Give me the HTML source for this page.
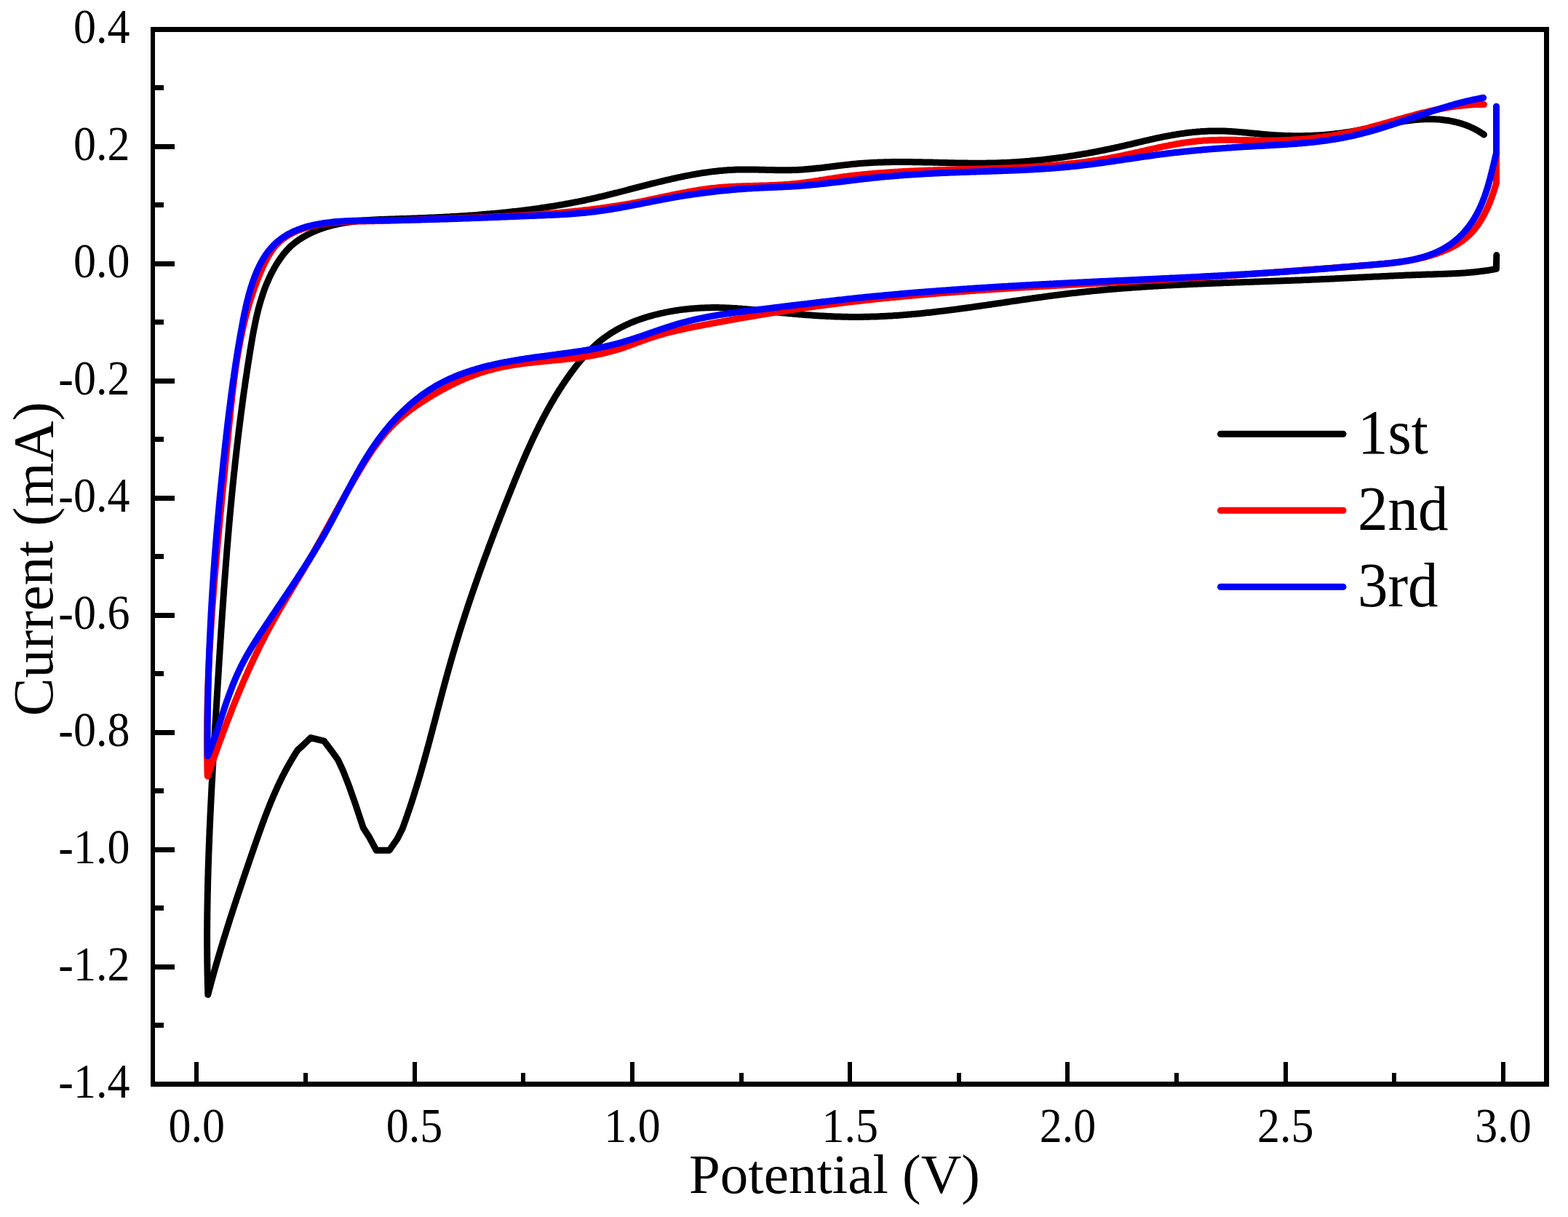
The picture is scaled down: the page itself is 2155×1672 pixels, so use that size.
<!DOCTYPE html>
<html><head><meta charset="utf-8"><title>CV plot</title>
<style>html,body{margin:0;padding:0;background:#fff;}svg{display:block;}</style>
</head><body>
<svg width="2155" height="1672" viewBox="0 0 2155 1672">
<rect width="2155" height="1672" fill="#fff"/>
<g fill="none" stroke-width="9" stroke-linecap="round" stroke-linejoin="round">
<path stroke="#000" d="M2056.8,350.5 L2056.4,369.4 L2054.4,369.8 L2052.4,370.1 L2050.5,370.5 L2048.5,370.8 L2046.5,371.2 L2044.5,371.5 L2042.5,371.8 L2040.6,372.0 L2038.6,372.3 L2036.6,372.6 L2034.6,372.8 L2032.6,373.1 L2030.6,373.3 L2028.6,373.5 L2026.7,373.7 L2024.7,373.9 L2022.7,374.1 L2020.7,374.3 L2018.7,374.5 L2016.7,374.6 L2014.7,374.8 L2012.7,374.9 L2010.7,375.1 L2008.7,375.2 L2006.7,375.3 L2004.7,375.4 L2002.7,375.5 L2000.7,375.7 L1998.7,375.8 L1996.7,375.8 L1994.7,375.9 L1992.7,376.0 L1990.7,376.1 L1988.7,376.2 L1986.7,376.3 L1984.7,376.3 L1982.7,376.4 L1980.7,376.5 L1978.7,376.5 L1976.7,376.6 L1974.7,376.7 L1972.7,376.7 L1970.7,376.8 L1968.7,376.9 L1966.7,376.9 L1964.7,377.0 L1962.7,377.0 L1960.7,377.1 L1958.7,377.2 L1956.7,377.2 L1954.7,377.3 L1952.7,377.4 L1950.7,377.5 L1948.7,377.5 L1946.7,377.6 L1944.7,377.7 L1942.7,377.7 L1940.7,377.8 L1938.7,377.9 L1936.7,378.0 L1934.7,378.1 L1932.7,378.1 L1930.7,378.2 L1928.7,378.3 L1926.7,378.4 L1924.7,378.5 L1922.7,378.6 L1920.7,378.7 L1918.7,378.7 L1916.7,378.8 L1914.7,378.9 L1912.7,379.0 L1910.7,379.1 L1908.7,379.2 L1906.7,379.3 L1904.7,379.4 L1902.7,379.5 L1900.7,379.6 L1898.8,379.7 L1896.8,379.8 L1894.8,379.9 L1892.8,380.0 L1890.8,380.0 L1888.8,380.1 L1886.8,380.2 L1884.8,380.3 L1882.8,380.4 L1880.8,380.5 L1878.8,380.6 L1876.8,380.7 L1874.8,380.8 L1872.8,380.9 L1870.8,381.0 L1868.8,381.1 L1866.8,381.2 L1864.8,381.3 L1862.8,381.4 L1860.8,381.5 L1858.8,381.6 L1856.8,381.7 L1854.8,381.8 L1852.8,381.9 L1850.8,382.0 L1848.8,382.1 L1846.8,382.2 L1844.8,382.3 L1842.8,382.4 L1840.8,382.5 L1838.8,382.6 L1836.8,382.7 L1834.8,382.8 L1832.8,382.9 L1830.8,383.0 L1828.8,383.1 L1826.8,383.2 L1824.8,383.3 L1822.8,383.3 L1820.8,383.4 L1818.8,383.5 L1816.8,383.6 L1814.8,383.7 L1812.8,383.8 L1810.8,383.9 L1808.8,384.0 L1806.8,384.1 L1804.8,384.1 L1802.8,384.2 L1800.8,384.3 L1798.8,384.4 L1796.8,384.5 L1794.8,384.5 L1792.8,384.6 L1790.8,384.7 L1788.8,384.8 L1786.8,384.9 L1784.8,384.9 L1782.8,385.0 L1780.8,385.1 L1778.8,385.2 L1776.8,385.2 L1774.8,385.3 L1772.8,385.4 L1770.8,385.5 L1768.8,385.5 L1766.8,385.6 L1764.8,385.7 L1762.8,385.8 L1760.8,385.8 L1758.8,385.9 L1756.8,386.0 L1754.8,386.1 L1752.8,386.1 L1750.8,386.2 L1748.8,386.3 L1746.8,386.3 L1744.8,386.4 L1742.8,386.5 L1740.8,386.6 L1738.8,386.6 L1736.8,386.7 L1734.8,386.8 L1732.8,386.8 L1730.8,386.9 L1728.8,387.0 L1726.8,387.0 L1724.8,387.1 L1722.8,387.2 L1720.8,387.3 L1718.8,387.3 L1716.8,387.4 L1714.8,387.5 L1712.8,387.5 L1710.8,387.6 L1708.8,387.7 L1706.8,387.7 L1704.8,387.8 L1702.8,387.9 L1700.8,388.0 L1698.8,388.0 L1696.8,388.1 L1694.8,388.2 L1692.8,388.3 L1690.8,388.3 L1688.8,388.4 L1686.8,388.5 L1684.8,388.6 L1682.8,388.6 L1680.8,388.7 L1678.8,388.8 L1676.8,388.9 L1674.8,388.9 L1672.8,389.0 L1670.8,389.1 L1668.8,389.2 L1666.8,389.2 L1664.8,389.3 L1662.8,389.4 L1660.8,389.5 L1658.8,389.6 L1656.8,389.7 L1654.8,389.7 L1652.8,389.8 L1650.8,389.9 L1648.8,390.0 L1646.8,390.1 L1644.8,390.2 L1642.8,390.3 L1640.8,390.3 L1638.8,390.4 L1636.8,390.5 L1634.8,390.6 L1632.8,390.7 L1630.8,390.8 L1628.8,390.9 L1626.8,391.0 L1624.8,391.1 L1622.8,391.2 L1620.8,391.3 L1618.8,391.4 L1616.8,391.5 L1614.8,391.6 L1612.8,391.7 L1610.8,391.8 L1608.8,391.9 L1606.8,392.0 L1604.8,392.1 L1602.8,392.2 L1600.8,392.3 L1598.8,392.4 L1596.8,392.6 L1594.8,392.7 L1592.8,392.8 L1590.8,392.9 L1588.8,393.0 L1586.8,393.1 L1584.8,393.3 L1582.8,393.4 L1580.8,393.5 L1578.8,393.6 L1576.8,393.8 L1574.8,393.9 L1572.8,394.0 L1570.8,394.1 L1568.8,394.3 L1566.8,394.4 L1564.8,394.5 L1562.9,394.7 L1560.9,394.8 L1558.9,395.0 L1556.9,395.1 L1554.9,395.2 L1552.9,395.4 L1550.9,395.5 L1548.9,395.7 L1546.9,395.8 L1544.9,396.0 L1542.9,396.1 L1540.9,396.3 L1538.9,396.5 L1536.9,396.6 L1534.9,396.8 L1532.9,396.9 L1530.9,397.1 L1528.9,397.3 L1527.0,397.4 L1525.0,397.6 L1523.0,397.8 L1521.0,398.0 L1519.0,398.1 L1517.0,398.3 L1515.0,398.5 L1513.0,398.7 L1511.0,398.9 L1509.0,399.1 L1507.0,399.3 L1505.0,399.4 L1503.0,399.6 L1501.1,399.8 L1499.1,400.0 L1497.1,400.2 L1495.1,400.4 L1493.1,400.6 L1491.1,400.9 L1489.1,401.1 L1487.1,401.3 L1485.1,401.5 L1483.1,401.7 L1481.1,401.9 L1479.2,402.2 L1477.2,402.4 L1475.2,402.6 L1473.2,402.8 L1471.2,403.1 L1469.2,403.3 L1467.2,403.5 L1465.2,403.8 L1463.3,404.0 L1461.3,404.3 L1459.3,404.5 L1457.3,404.8 L1455.3,405.0 L1453.3,405.3 L1451.3,405.5 L1449.3,405.8 L1447.4,406.0 L1445.4,406.3 L1443.4,406.6 L1441.4,406.8 L1439.4,407.1 L1437.4,407.4 L1435.4,407.6 L1433.5,407.9 L1431.5,408.2 L1429.5,408.4 L1427.5,408.7 L1425.5,409.0 L1423.5,409.3 L1421.5,409.5 L1419.6,409.8 L1417.6,410.1 L1415.6,410.4 L1413.6,410.7 L1411.6,411.0 L1409.6,411.2 L1407.7,411.5 L1405.7,411.8 L1403.7,412.1 L1401.7,412.4 L1399.7,412.7 L1397.7,413.0 L1395.8,413.3 L1393.8,413.5 L1391.8,413.8 L1389.8,414.1 L1387.8,414.4 L1385.8,414.7 L1383.9,415.0 L1381.9,415.3 L1379.9,415.6 L1377.9,415.9 L1375.9,416.2 L1373.9,416.5 L1372.0,416.8 L1370.0,417.0 L1368.0,417.3 L1366.0,417.6 L1364.0,417.9 L1362.0,418.2 L1360.1,418.5 L1358.1,418.8 L1356.1,419.1 L1354.1,419.4 L1352.1,419.6 L1350.1,419.9 L1348.2,420.2 L1346.2,420.5 L1344.2,420.8 L1342.2,421.1 L1340.2,421.3 L1338.2,421.6 L1336.2,421.9 L1334.3,422.2 L1332.3,422.4 L1330.3,422.7 L1328.3,423.0 L1326.3,423.3 L1324.3,423.5 L1322.4,423.8 L1320.4,424.1 L1318.4,424.3 L1316.4,424.6 L1314.4,424.9 L1312.4,425.1 L1310.5,425.4 L1308.5,425.6 L1306.5,425.9 L1304.5,426.1 L1302.5,426.4 L1300.5,426.6 L1298.5,426.9 L1296.6,427.1 L1294.6,427.4 L1292.6,427.6 L1290.6,427.8 L1288.6,428.1 L1286.6,428.3 L1284.6,428.5 L1282.7,428.8 L1280.7,429.0 L1278.7,429.2 L1276.7,429.4 L1274.7,429.6 L1272.7,429.8 L1270.7,430.1 L1268.7,430.3 L1266.8,430.5 L1264.8,430.7 L1262.8,430.9 L1260.8,431.0 L1258.8,431.2 L1256.8,431.4 L1254.8,431.6 L1252.8,431.8 L1250.9,432.0 L1248.9,432.1 L1246.9,432.3 L1244.9,432.5 L1242.9,432.6 L1240.9,432.8 L1238.9,432.9 L1236.9,433.1 L1234.9,433.2 L1232.9,433.4 L1230.9,433.5 L1229.0,433.6 L1227.0,433.8 L1225.0,433.9 L1223.0,434.0 L1221.0,434.1 L1219.0,434.2 L1217.0,434.3 L1215.0,434.4 L1213.0,434.5 L1211.0,434.6 L1209.0,434.7 L1207.0,434.8 L1205.0,434.9 L1203.0,434.9 L1201.0,435.0 L1199.0,435.1 L1197.1,435.1 L1195.1,435.2 L1193.1,435.2 L1191.1,435.3 L1189.1,435.3 L1187.1,435.3 L1185.1,435.4 L1183.1,435.4 L1181.1,435.4 L1179.1,435.4 L1177.1,435.4 L1175.1,435.4 L1173.1,435.4 L1171.1,435.4 L1169.1,435.4 L1167.1,435.4 L1165.1,435.3 L1163.1,435.3 L1161.1,435.3 L1159.1,435.2 L1157.1,435.2 L1155.1,435.1 L1153.1,435.1 L1151.1,435.0 L1149.1,434.9 L1147.1,434.9 L1145.0,434.8 L1143.0,434.7 L1141.0,434.6 L1139.0,434.5 L1137.0,434.4 L1135.0,434.3 L1133.0,434.2 L1131.0,434.1 L1129.0,434.0 L1127.0,433.9 L1125.0,433.8 L1123.0,433.7 L1121.0,433.5 L1119.0,433.4 L1117.0,433.3 L1115.0,433.1 L1113.0,433.0 L1111.0,432.8 L1109.0,432.7 L1107.0,432.5 L1105.0,432.4 L1103.0,432.2 L1101.0,432.1 L1099.0,431.9 L1097.0,431.7 L1095.0,431.6 L1093.1,431.4 L1091.1,431.2 L1089.1,431.0 L1087.1,430.8 L1085.1,430.7 L1083.1,430.5 L1081.1,430.3 L1079.1,430.1 L1077.1,429.9 L1075.1,429.7 L1073.1,429.5 L1071.1,429.3 L1069.1,429.1 L1067.2,428.9 L1065.2,428.7 L1063.2,428.5 L1061.2,428.3 L1059.2,428.1 L1057.2,427.9 L1055.2,427.6 L1053.3,427.4 L1051.3,427.2 L1049.3,427.0 L1047.3,426.8 L1045.3,426.6 L1043.3,426.4 L1041.4,426.2 L1039.4,426.0 L1037.4,425.8 L1035.4,425.6 L1033.4,425.4 L1031.5,425.2 L1029.5,425.0 L1027.5,424.9 L1025.5,424.7 L1023.5,424.5 L1021.5,424.4 L1019.5,424.2 L1017.6,424.0 L1015.6,423.9 L1013.6,423.8 L1011.6,423.6 L1009.6,423.5 L1007.6,423.4 L1005.6,423.3 L1003.6,423.2 L1001.6,423.1 L999.6,423.0 L997.7,422.9 L995.7,422.8 L993.7,422.8 L991.7,422.7 L989.7,422.7 L987.7,422.6 L985.7,422.6 L983.7,422.6 L981.6,422.6 L979.6,422.6 L977.6,422.6 L975.6,422.7 L973.6,422.7 L971.6,422.8 L969.6,422.8 L967.6,422.9 L965.6,423.0 L963.6,423.1 L961.6,423.2 L959.6,423.3 L957.6,423.4 L955.6,423.6 L953.5,423.7 L951.5,423.9 L949.5,424.1 L947.5,424.3 L945.5,424.5 L943.5,424.7 L941.5,424.9 L939.5,425.1 L937.5,425.4 L935.5,425.6 L933.5,425.9 L931.5,426.2 L929.6,426.5 L927.6,426.8 L925.6,427.1 L923.6,427.5 L921.6,427.8 L919.6,428.2 L917.7,428.6 L915.7,428.9 L913.7,429.3 L911.7,429.8 L909.8,430.2 L907.8,430.6 L905.9,431.1 L903.9,431.6 L902.0,432.0 L900.0,432.5 L898.1,433.0 L896.1,433.6 L894.2,434.1 L892.2,434.7 L890.3,435.2 L888.4,435.8 L886.5,436.4 L884.6,437.0 L882.7,437.6 L880.8,438.3 L878.9,438.9 L877.0,439.6 L875.1,440.3 L873.2,441.0 L871.4,441.7 L869.5,442.5 L867.6,443.2 L865.8,444.0 L864.0,444.8 L862.2,445.6 L860.3,446.5 L858.5,447.3 L856.8,448.2 L855.0,449.1 L853.2,450.0 L851.4,450.9 L849.7,451.8 L848.0,452.8 L846.2,453.8 L844.5,454.8 L842.8,455.8 L841.2,456.9 L839.5,457.9 L837.8,459.0 L836.2,460.1 L834.6,461.2 L832.9,462.3 L831.3,463.5 L829.7,464.7 L828.2,465.9 L826.6,467.1 L825.1,468.3 L823.5,469.6 L822.0,470.8 L820.5,472.1 L819.0,473.4 L817.6,474.8 L816.1,476.1 L814.7,477.5 L813.2,478.8 L811.8,480.2 L810.4,481.6 L809.0,483.0 L807.6,484.5 L806.3,485.9 L804.9,487.4 L803.6,488.9 L802.3,490.3 L800.9,491.8 L799.6,493.4 L798.3,494.9 L797.1,496.4 L795.8,497.9 L794.5,499.5 L793.3,501.1 L792.0,502.6 L790.8,504.2 L789.6,505.8 L788.4,507.4 L787.2,509.0 L786.0,510.6 L784.8,512.2 L783.6,513.8 L782.4,515.5 L781.3,517.1 L780.1,518.7 L779.0,520.4 L777.8,522.0 L776.7,523.7 L775.6,525.3 L774.5,527.0 L773.4,528.6 L772.3,530.3 L771.2,532.0 L770.1,533.7 L769.0,535.3 L767.9,537.0 L766.9,538.7 L765.8,540.4 L764.8,542.1 L763.7,543.8 L762.7,545.5 L761.7,547.2 L760.7,549.0 L759.6,550.7 L758.6,552.4 L757.6,554.1 L756.6,555.9 L755.7,557.6 L754.7,559.3 L753.7,561.1 L752.7,562.8 L751.8,564.6 L750.8,566.3 L749.9,568.1 L748.9,569.8 L748.0,571.6 L747.0,573.4 L746.1,575.1 L745.2,576.9 L744.3,578.7 L743.4,580.5 L742.4,582.3 L741.5,584.0 L740.6,585.8 L739.8,587.6 L738.9,589.4 L738.0,591.2 L737.1,593.0 L736.2,594.8 L735.4,596.6 L734.5,598.4 L733.6,600.2 L732.8,602.0 L731.9,603.9 L731.1,605.7 L730.2,607.5 L729.4,609.3 L728.6,611.1 L727.7,613.0 L726.9,614.8 L726.1,616.6 L725.3,618.5 L724.4,620.3 L723.6,622.1 L722.8,624.0 L722.0,625.8 L721.2,627.6 L720.4,629.5 L719.6,631.3 L718.8,633.2 L718.0,635.0 L717.2,636.9 L716.5,638.7 L715.7,640.6 L714.9,642.4 L714.1,644.3 L713.3,646.1 L712.6,648.0 L711.8,649.8 L711.0,651.7 L710.3,653.5 L709.5,655.4 L708.7,657.3 L708.0,659.1 L707.2,661.0 L706.5,662.8 L705.7,664.7 L705.0,666.6 L704.2,668.4 L703.5,670.3 L702.7,672.1 L702.0,674.0 L701.2,675.9 L700.5,677.7 L699.7,679.6 L699.0,681.5 L698.2,683.3 L697.5,685.2 L696.8,687.1 L696.0,688.9 L695.3,690.8 L694.5,692.7 L693.8,694.5 L693.1,696.4 L692.3,698.2 L691.6,700.1 L690.9,702.0 L690.1,703.8 L689.4,705.7 L688.7,707.6 L687.9,709.4 L687.2,711.3 L686.5,713.2 L685.8,715.0 L685.0,716.9 L684.3,718.8 L683.6,720.6 L682.9,722.5 L682.2,724.4 L681.5,726.2 L680.7,728.1 L680.0,730.0 L679.3,731.8 L678.6,733.7 L677.9,735.6 L677.2,737.4 L676.5,739.3 L675.8,741.2 L675.1,743.1 L674.4,744.9 L673.6,746.8 L672.9,748.7 L672.2,750.5 L671.5,752.4 L670.9,754.3 L670.2,756.2 L669.5,758.0 L668.8,759.9 L668.1,761.8 L667.4,763.6 L666.7,765.5 L666.0,767.4 L665.3,769.3 L664.6,771.1 L664.0,773.0 L663.3,774.9 L662.6,776.8 L661.9,778.7 L661.2,780.5 L660.6,782.4 L659.9,784.3 L659.2,786.2 L658.5,788.0 L657.9,789.9 L657.2,791.8 L656.5,793.7 L655.9,795.6 L655.2,797.4 L654.6,799.3 L653.9,801.2 L653.2,803.1 L652.6,805.0 L651.9,806.9 L651.3,808.8 L650.6,810.6 L650.0,812.5 L649.3,814.4 L648.7,816.3 L648.0,818.2 L647.4,820.1 L646.8,822.0 L646.1,823.8 L645.5,825.7 L644.8,827.6 L644.2,829.5 L643.6,831.4 L642.9,833.3 L642.3,835.2 L641.7,837.1 L641.1,839.0 L640.4,840.9 L639.8,842.8 L639.2,844.7 L638.6,846.6 L638.0,848.5 L637.4,850.4 L636.8,852.3 L636.1,854.2 L635.5,856.1 L634.9,858.0 L634.3,859.9 L633.7,861.8 L633.1,863.7 L632.5,865.6 L631.9,867.5 L631.3,869.4 L630.7,871.3 L630.2,873.2 L629.6,875.1 L629.0,877.0 L628.4,878.9 L627.8,880.8 L627.2,882.8 L626.7,884.7 L626.1,886.6 L625.5,888.5 L624.9,890.4 L624.4,892.3 L623.8,894.2 L623.2,896.2 L622.7,898.1 L622.1,900.0 L621.6,901.9 L621.0,903.8 L620.5,905.8 L619.9,907.7 L619.4,909.6 L618.8,911.5 L618.3,913.5 L617.7,915.4 L617.2,917.3 L616.6,919.2 L616.1,921.2 L615.6,923.1 L615.0,925.0 L614.5,927.0 L614.0,928.9 L613.4,930.8 L612.9,932.8 L612.4,934.7 L611.9,936.6 L611.3,938.6 L610.8,940.5 L610.3,942.4 L609.8,944.4 L609.2,946.3 L608.7,948.2 L608.2,950.2 L607.7,952.1 L607.2,954.0 L606.7,956.0 L606.1,957.9 L605.6,959.9 L605.1,961.8 L604.6,963.7 L604.1,965.7 L603.6,967.6 L603.1,969.5 L602.6,971.5 L602.1,973.4 L601.5,975.4 L601.0,977.3 L600.5,979.2 L600.0,981.2 L599.5,983.1 L599.0,985.1 L598.5,987.0 L598.0,988.9 L597.5,990.9 L597.0,992.8 L596.4,994.8 L595.9,996.7 L595.4,998.6 L594.9,1000.6 L594.4,1002.5 L593.9,1004.5 L593.4,1006.4 L592.8,1008.3 L592.3,1010.3 L591.8,1012.2 L591.3,1014.2 L590.8,1016.1 L590.3,1018.0 L589.7,1020.0 L589.2,1021.9 L588.7,1023.8 L588.2,1025.8 L587.6,1027.7 L587.1,1029.6 L586.6,1031.6 L586.1,1033.5 L585.5,1035.4 L585.0,1037.4 L584.5,1039.3 L583.9,1041.2 L583.4,1043.2 L582.9,1045.1 L582.3,1047.0 L581.8,1049.0 L581.2,1050.9 L580.7,1052.8 L580.1,1054.7 L579.6,1056.7 L579.0,1058.6 L578.5,1060.5 L577.9,1062.4 L577.4,1064.4 L576.8,1066.3 L576.2,1068.2 L575.7,1070.1 L575.1,1072.0 L574.5,1074.0 L573.9,1075.9 L573.4,1077.8 L572.8,1079.7 L572.2,1081.6 L571.6,1083.5 L571.0,1085.4 L570.4,1087.3 L569.8,1089.3 L569.2,1091.2 L568.6,1093.1 L568.0,1095.0 L567.4,1096.9 L566.8,1098.8 L566.2,1100.7 L565.6,1102.6 L565.0,1104.5 L564.3,1106.4 L563.7,1108.3 L563.1,1110.2 L562.4,1112.1 L561.8,1114.0 L561.1,1115.8 L560.5,1117.7 L559.8,1119.6 L559.2,1121.5 L558.5,1123.4 L557.9,1125.3 L557.2,1127.2 L556.5,1129.0 L555.9,1130.9 L555.2,1132.8 L554.5,1134.7 L553.8,1136.5 L553.1,1138.4 L545.9,1152.7 L535.1,1168.3 L517.2,1168.3 L507.6,1150.3 L499.2,1137.2 L488.5,1104.9 L480.1,1080.9 L471.7,1059.4 L464.5,1043.8 L455.0,1030.7 L445.4,1018.1 L427.1,1013.6 L417.0,1023.3 L409.2,1030.3 L408.1,1032.0 L407.0,1033.7 L405.9,1035.4 L404.9,1037.1 L403.8,1038.8 L402.8,1040.5 L401.7,1042.2 L400.7,1044.0 L399.7,1045.7 L398.7,1047.4 L397.7,1049.2 L396.7,1050.9 L395.7,1052.7 L394.7,1054.4 L393.8,1056.2 L392.8,1057.9 L391.9,1059.7 L391.0,1061.5 L390.1,1063.3 L389.1,1065.0 L388.2,1066.8 L387.3,1068.6 L386.5,1070.4 L385.6,1072.2 L384.7,1074.0 L383.9,1075.8 L383.0,1077.6 L382.1,1079.4 L381.3,1081.2 L380.5,1083.1 L379.7,1084.9 L378.8,1086.7 L378.0,1088.5 L377.2,1090.4 L376.4,1092.2 L375.6,1094.0 L374.8,1095.9 L374.1,1097.7 L373.3,1099.6 L372.5,1101.4 L371.8,1103.3 L371.0,1105.1 L370.3,1107.0 L369.5,1108.9 L368.8,1110.7 L368.0,1112.6 L367.3,1114.4 L366.6,1116.3 L365.9,1118.2 L365.1,1120.1 L364.4,1121.9 L363.7,1123.8 L363.0,1125.7 L362.3,1127.6 L361.6,1129.5 L360.9,1131.3 L360.2,1133.2 L359.5,1135.1 L358.9,1137.0 L358.2,1138.9 L357.5,1140.8 L356.8,1142.7 L356.1,1144.6 L355.5,1146.5 L354.8,1148.4 L354.1,1150.2 L353.5,1152.1 L352.8,1154.0 L352.1,1155.9 L351.5,1157.8 L350.8,1159.7 L350.1,1161.6 L349.5,1163.5 L348.8,1165.4 L348.2,1167.3 L347.5,1169.2 L346.9,1171.1 L346.2,1173.0 L345.5,1174.9 L344.9,1176.8 L344.2,1178.7 L343.6,1180.6 L342.9,1182.5 L342.3,1184.4 L341.6,1186.3 L341.0,1188.2 L340.3,1190.1 L339.7,1192.0 L339.0,1193.9 L338.4,1195.8 L337.7,1197.7 L337.1,1199.6 L336.4,1201.5 L335.8,1203.4 L335.1,1205.3 L334.5,1207.2 L333.8,1209.1 L333.2,1211.1 L332.6,1213.0 L331.9,1214.9 L331.3,1216.8 L330.6,1218.7 L330.0,1220.6 L329.4,1222.5 L328.7,1224.4 L328.1,1226.3 L327.4,1228.2 L326.8,1230.1 L326.2,1232.0 L325.6,1233.9 L324.9,1235.8 L324.3,1237.7 L323.7,1239.6 L323.0,1241.5 L322.4,1243.4 L321.8,1245.3 L321.2,1247.3 L320.5,1249.2 L319.9,1251.1 L319.3,1253.0 L318.7,1254.9 L318.1,1256.8 L317.4,1258.7 L316.8,1260.6 L316.2,1262.5 L315.6,1264.4 L315.0,1266.4 L314.4,1268.3 L313.8,1270.2 L313.2,1272.1 L312.6,1274.0 L312.0,1275.9 L311.4,1277.8 L310.8,1279.7 L310.2,1281.7 L309.6,1283.6 L309.0,1285.5 L308.4,1287.4 L307.8,1289.3 L307.2,1291.2 L306.6,1293.2 L306.0,1295.1 L305.5,1297.0 L304.9,1298.9 L304.3,1300.8 L303.7,1302.8 L303.1,1304.7 L302.6,1306.6 L302.0,1308.5 L301.4,1310.5 L300.9,1312.4 L300.3,1314.3 L299.7,1316.2 L299.2,1318.2 L298.6,1320.1 L298.0,1322.0 L297.5,1323.9 L296.9,1325.9 L296.4,1327.8 L295.8,1329.7 L295.3,1331.6 L294.7,1333.6 L294.2,1335.5 L293.6,1337.4 L293.1,1339.4 L292.6,1341.3 L292.0,1343.2 L291.5,1345.2 L291.0,1347.1 L290.4,1349.0 L289.9,1351.0 L289.4,1352.9 L288.9,1354.9 L288.4,1356.8 L287.8,1358.7 L287.3,1360.7 L286.8,1362.6 L286.3,1364.6 L285.8,1366.5 L285.7,1364.5 L285.7,1362.5 L285.6,1360.5 L285.6,1358.5 L285.5,1356.5 L285.5,1354.5 L285.4,1352.5 L285.3,1350.5 L285.3,1348.5 L285.3,1346.5 L285.2,1344.5 L285.2,1342.5 L285.1,1340.5 L285.1,1338.5 L285.0,1336.5 L285.0,1334.5 L285.0,1332.5 L284.9,1330.5 L284.9,1328.5 L284.9,1326.5 L284.9,1324.5 L284.8,1322.5 L284.8,1320.5 L284.8,1318.5 L284.8,1316.5 L284.7,1314.5 L284.7,1312.5 L284.7,1310.5 L284.7,1308.5 L284.7,1306.5 L284.7,1304.5 L284.7,1302.5 L284.6,1300.5 L284.6,1298.5 L284.6,1296.5 L284.6,1294.5 L284.6,1292.5 L284.6,1290.5 L284.6,1288.5 L284.6,1286.5 L284.6,1284.5 L284.6,1282.5 L284.6,1280.5 L284.6,1278.5 L284.7,1276.5 L284.7,1274.5 L284.7,1272.5 L284.7,1270.5 L284.7,1268.5 L284.7,1266.5 L284.7,1264.5 L284.8,1262.5 L284.8,1260.5 L284.8,1258.5 L284.8,1256.5 L284.8,1254.5 L284.9,1252.5 L284.9,1250.5 L284.9,1248.5 L285.0,1246.5 L285.0,1244.5 L285.0,1242.5 L285.1,1240.5 L285.1,1238.5 L285.1,1236.5 L285.2,1234.5 L285.2,1232.5 L285.2,1230.5 L285.3,1228.5 L285.3,1226.5 L285.4,1224.5 L285.4,1222.5 L285.5,1220.5 L285.5,1218.5 L285.5,1216.5 L285.6,1214.5 L285.6,1212.5 L285.7,1210.5 L285.7,1208.5 L285.8,1206.5 L285.9,1204.5 L285.9,1202.5 L286.0,1200.5 L286.0,1198.5 L286.1,1196.5 L286.1,1194.5 L286.2,1192.5 L286.3,1190.5 L286.3,1188.5 L286.4,1186.5 L286.5,1184.5 L286.5,1182.5 L286.6,1180.5 L286.7,1178.5 L286.7,1176.5 L286.8,1174.5 L286.9,1172.5 L286.9,1170.5 L287.0,1168.5 L287.1,1166.5 L287.2,1164.5 L287.2,1162.5 L287.3,1160.5 L287.4,1158.5 L287.5,1156.5 L287.6,1154.5 L287.6,1152.5 L287.7,1150.5 L287.8,1148.4 L287.9,1146.4 L288.0,1144.4 L288.0,1142.4 L288.1,1140.4 L288.2,1138.4 L288.3,1136.4 L288.4,1134.4 L288.5,1132.4 L288.6,1130.4 L288.7,1128.4 L288.8,1126.4 L288.8,1124.4 L288.9,1122.4 L289.0,1120.4 L289.1,1118.4 L289.2,1116.4 L289.3,1114.4 L289.4,1112.4 L289.5,1110.4 L289.6,1108.4 L289.7,1106.4 L289.8,1104.4 L289.9,1102.4 L290.0,1100.4 L290.1,1098.4 L290.2,1096.4 L290.3,1094.4 L290.4,1092.4 L290.5,1090.4 L290.6,1088.4 L290.7,1086.4 L290.8,1084.4 L290.9,1082.4 L291.0,1080.4 L291.1,1078.4 L291.2,1076.4 L291.3,1074.4 L291.5,1072.4 L291.6,1070.4 L291.7,1068.4 L291.8,1066.4 L291.9,1064.4 L292.0,1062.4 L292.1,1060.4 L292.2,1058.4 L292.3,1056.4 L292.4,1054.4 L292.6,1052.4 L292.7,1050.4 L292.8,1048.4 L292.9,1046.4 L293.0,1044.4 L293.1,1042.4 L293.2,1040.4 L293.4,1038.4 L293.5,1036.4 L293.6,1034.4 L293.7,1032.4 L293.8,1030.4 L293.9,1028.4 L294.0,1026.4 L294.2,1024.4 L294.3,1022.4 L294.4,1020.4 L294.5,1018.4 L294.6,1016.4 L294.8,1014.4 L294.9,1012.4 L295.0,1010.4 L295.1,1008.4 L295.2,1006.4 L295.4,1004.4 L295.5,1002.4 L295.6,1000.4 L295.7,998.5 L295.8,996.5 L296.0,994.5 L296.1,992.5 L296.2,990.5 L296.3,988.5 L296.4,986.5 L296.6,984.5 L296.7,982.5 L296.8,980.5 L296.9,978.5 L297.0,976.5 L297.2,974.5 L297.3,972.5 L297.4,970.5 L297.5,968.5 L297.7,966.5 L297.8,964.5 L297.9,962.5 L298.0,960.5 L298.1,958.5 L298.3,956.5 L298.4,954.5 L298.5,952.5 L298.6,950.5 L298.8,948.5 L298.9,946.5 L299.0,944.5 L299.1,942.5 L299.2,940.5 L299.4,938.5 L299.5,936.5 L299.6,934.5 L299.7,932.5 L299.9,930.5 L300.0,928.6 L300.1,926.6 L300.2,924.6 L300.4,922.6 L300.5,920.6 L300.6,918.6 L300.7,916.6 L300.8,914.6 L301.0,912.6 L301.1,910.6 L301.2,908.6 L301.3,906.6 L301.5,904.6 L301.6,902.6 L301.7,900.6 L301.9,898.6 L302.0,896.6 L302.1,894.6 L302.2,892.6 L302.4,890.6 L302.5,888.6 L302.6,886.7 L302.7,884.7 L302.9,882.7 L303.0,880.7 L303.1,878.7 L303.3,876.7 L303.4,874.7 L303.5,872.7 L303.6,870.7 L303.8,868.7 L303.9,866.7 L304.0,864.7 L304.2,862.7 L304.3,860.7 L304.4,858.7 L304.6,856.7 L304.7,854.7 L304.8,852.8 L305.0,850.8 L305.1,848.8 L305.2,846.8 L305.4,844.8 L305.5,842.8 L305.6,840.8 L305.8,838.8 L305.9,836.8 L306.1,834.8 L306.2,832.8 L306.3,830.8 L306.5,828.8 L306.6,826.8 L306.8,824.8 L306.9,822.9 L307.0,820.9 L307.2,818.9 L307.3,816.9 L307.5,814.9 L307.6,812.9 L307.7,810.9 L307.9,808.9 L308.0,806.9 L308.2,804.9 L308.3,802.9 L308.5,800.9 L308.6,798.9 L308.8,796.9 L308.9,795.0 L309.1,793.0 L309.2,791.0 L309.4,789.0 L309.5,787.0 L309.7,785.0 L309.8,783.0 L310.0,781.0 L310.1,779.0 L310.3,777.0 L310.4,775.0 L310.6,773.0 L310.7,771.1 L310.9,769.1 L311.1,767.1 L311.2,765.1 L311.4,763.1 L311.5,761.1 L311.7,759.1 L311.8,757.1 L312.0,755.1 L312.2,753.1 L312.3,751.1 L312.5,749.1 L312.7,747.2 L312.8,745.2 L313.0,743.2 L313.2,741.2 L313.3,739.2 L313.5,737.2 L313.7,735.2 L313.8,733.2 L314.0,731.2 L314.2,729.2 L314.3,727.2 L314.5,725.3 L314.7,723.3 L314.9,721.3 L315.0,719.3 L315.2,717.3 L315.4,715.3 L315.6,713.3 L315.7,711.3 L315.9,709.3 L316.1,707.3 L316.3,705.3 L316.5,703.4 L316.7,701.4 L316.8,699.4 L317.0,697.4 L317.2,695.4 L317.4,693.4 L317.6,691.4 L317.8,689.4 L318.0,687.4 L318.1,685.4 L318.3,683.5 L318.5,681.5 L318.7,679.5 L318.9,677.5 L319.1,675.5 L319.3,673.5 L319.5,671.5 L319.7,669.5 L319.9,667.5 L320.1,665.5 L320.3,663.6 L320.5,661.6 L320.7,659.6 L320.9,657.6 L321.1,655.6 L321.3,653.6 L321.5,651.6 L321.7,649.6 L322.0,647.6 L322.2,645.6 L322.4,643.7 L322.6,641.7 L322.8,639.7 L323.0,637.7 L323.2,635.7 L323.4,633.7 L323.7,631.7 L323.9,629.7 L324.1,627.7 L324.3,625.7 L324.6,623.8 L324.8,621.8 L325.0,619.8 L325.2,617.8 L325.5,615.8 L325.7,613.8 L325.9,611.8 L326.1,609.8 L326.4,607.8 L326.6,605.9 L326.8,603.9 L327.1,601.9 L327.3,599.9 L327.6,597.9 L327.8,595.9 L328.0,593.9 L328.3,591.9 L328.5,589.9 L328.8,588.0 L329.0,586.0 L329.3,584.0 L329.5,582.0 L329.8,580.0 L330.0,578.0 L330.3,576.0 L330.5,574.0 L330.8,572.0 L331.0,570.0 L331.3,568.1 L331.6,566.1 L331.8,564.1 L332.1,562.1 L332.3,560.1 L332.6,558.1 L332.9,556.1 L333.1,554.1 L333.4,552.1 L333.7,550.2 L333.9,548.2 L334.2,546.2 L334.5,544.2 L334.8,542.2 L335.0,540.2 L335.3,538.2 L335.6,536.2 L335.9,534.2 L336.2,532.3 L336.5,530.3 L336.7,528.3 L337.0,526.3 L337.3,524.3 L337.6,522.3 L337.9,520.3 L338.2,518.3 L338.5,516.3 L338.8,514.4 L339.1,512.4 L339.4,510.4 L339.7,508.4 L340.0,506.4 L340.3,504.4 L340.6,502.4 L340.9,500.4 L341.2,498.4 L341.5,496.5 L341.8,494.5 L342.2,492.5 L342.5,490.5 L342.8,488.5 L343.1,486.5 L343.4,484.5 L343.7,482.5 L344.1,480.5 L344.4,478.6 L344.7,476.6 L345.0,474.6 L345.4,472.6 L345.7,470.6 L346.1,468.6 L346.4,466.6 L346.7,464.6 L347.1,462.7 L347.4,460.7 L347.8,458.7 L348.2,456.7 L348.5,454.7 L348.9,452.8 L349.3,450.8 L349.7,448.8 L350.1,446.8 L350.5,444.9 L350.9,442.9 L351.3,440.9 L351.7,439.0 L352.1,437.0 L352.6,435.1 L353.0,433.1 L353.5,431.2 L354.0,429.2 L354.4,427.3 L354.9,425.4 L355.4,423.4 L355.9,421.5 L356.5,419.6 L357.0,417.7 L357.5,415.8 L358.1,413.9 L358.7,412.0 L359.3,410.1 L359.9,408.2 L360.5,406.3 L361.1,404.4 L361.7,402.5 L362.4,400.7 L363.0,398.8 L363.7,396.9 L364.4,395.1 L365.1,393.2 L365.9,391.4 L366.6,389.6 L367.4,387.8 L368.2,385.9 L369.0,384.1 L369.8,382.3 L370.6,380.5 L371.5,378.7 L372.4,377.0 L373.2,375.2 L374.2,373.4 L375.1,371.7 L376.0,369.9 L377.0,368.2 L378.0,366.5 L379.0,364.8 L380.1,363.0 L381.1,361.3 L382.2,359.7 L383.3,358.0 L384.4,356.3 L385.6,354.7 L386.8,353.0 L388.0,351.4 L389.2,349.8 L390.4,348.2 L391.7,346.7 L393.0,345.1 L394.4,343.6 L395.7,342.1 L397.1,340.7 L398.5,339.3 L400.0,337.9 L401.5,336.6 L403.0,335.3 L404.6,334.0 L406.2,332.8 L407.8,331.6 L409.4,330.4 L411.0,329.3 L412.7,328.2 L414.4,327.1 L416.1,326.1 L417.8,325.1 L419.5,324.1 L421.2,323.2 L422.9,322.3 L424.7,321.4 L426.4,320.5 L428.2,319.7 L429.9,318.8 L431.7,318.0 L433.5,317.3 L435.3,316.5 L437.1,315.8 L439.0,315.1 L440.8,314.5 L442.6,313.8 L444.5,313.2 L446.3,312.6 L448.2,312.0 L450.1,311.4 L452.0,310.9 L453.8,310.4 L455.7,309.9 L457.6,309.4 L459.6,308.9 L461.5,308.5 L463.4,308.1 L465.3,307.7 L467.3,307.3 L469.2,306.9 L471.2,306.6 L473.1,306.2 L475.1,305.9 L477.0,305.6 L479.0,305.3 L481.0,305.0 L483.0,304.7 L485.0,304.5 L487.0,304.2 L489.0,304.0 L491.0,303.8 L493.0,303.6 L495.0,303.4 L497.0,303.2 L499.0,303.0 L501.0,302.8 L503.0,302.7 L505.1,302.5 L507.1,302.4 L509.1,302.3 L511.2,302.2 L513.2,302.0 L515.2,301.9 L517.3,301.8 L519.3,301.7 L521.4,301.6 L523.4,301.5 L525.4,301.5 L527.5,301.4 L529.5,301.3 L531.6,301.2 L533.6,301.2 L535.7,301.1 L537.7,301.0 L539.8,301.0 L541.8,300.9 L543.9,300.8 L545.9,300.8 L547.9,300.7 L550.0,300.6 L552.0,300.6 L554.1,300.5 L556.1,300.5 L558.1,300.4 L560.2,300.3 L562.2,300.2 L564.2,300.2 L566.3,300.1 L568.3,300.0 L570.3,300.0 L572.4,299.9 L574.4,299.8 L576.4,299.7 L578.4,299.6 L580.5,299.6 L582.5,299.5 L584.5,299.4 L586.5,299.3 L588.6,299.2 L590.6,299.1 L592.6,299.1 L594.6,299.0 L596.6,298.9 L598.6,298.8 L600.7,298.7 L602.7,298.6 L604.7,298.5 L606.7,298.4 L608.7,298.3 L610.7,298.2 L612.7,298.1 L614.7,298.0 L616.7,297.9 L618.7,297.8 L620.7,297.6 L622.7,297.5 L624.7,297.4 L626.7,297.3 L628.7,297.2 L630.7,297.0 L632.7,296.9 L634.7,296.8 L636.7,296.7 L638.7,296.5 L640.7,296.4 L642.7,296.3 L644.7,296.1 L646.7,296.0 L648.7,295.9 L650.7,295.7 L652.7,295.6 L654.7,295.4 L656.7,295.3 L658.6,295.1 L660.6,295.0 L662.6,294.8 L664.6,294.6 L666.6,294.5 L668.6,294.3 L670.5,294.1 L672.5,294.0 L674.5,293.8 L676.5,293.6 L678.5,293.4 L680.5,293.3 L682.4,293.1 L684.4,292.9 L686.4,292.7 L688.4,292.5 L690.3,292.3 L692.3,292.1 L694.3,291.9 L696.3,291.7 L698.2,291.5 L700.2,291.3 L702.2,291.1 L704.1,290.8 L706.1,290.6 L708.1,290.4 L710.1,290.2 L712.0,289.9 L714.0,289.7 L716.0,289.5 L717.9,289.2 L719.9,289.0 L721.9,288.8 L723.8,288.5 L725.8,288.2 L727.8,288.0 L729.7,287.7 L731.7,287.5 L733.6,287.2 L735.6,286.9 L737.6,286.7 L739.5,286.4 L741.5,286.1 L743.4,285.8 L745.4,285.5 L747.4,285.2 L749.3,284.9 L751.3,284.6 L753.2,284.3 L755.2,284.0 L757.2,283.7 L759.1,283.4 L761.1,283.1 L763.0,282.8 L765.0,282.4 L766.9,282.1 L768.9,281.8 L770.8,281.4 L772.8,281.1 L774.8,280.8 L776.7,280.4 L778.7,280.0 L780.6,279.7 L782.6,279.3 L784.5,279.0 L786.5,278.6 L788.4,278.2 L790.4,277.8 L792.3,277.4 L794.3,277.1 L796.2,276.7 L798.2,276.3 L800.1,275.9 L802.1,275.5 L804.0,275.1 L806.0,274.6 L807.9,274.2 L809.9,273.8 L811.8,273.4 L813.8,272.9 L815.7,272.5 L817.7,272.0 L819.6,271.6 L821.6,271.1 L823.5,270.7 L825.5,270.2 L827.4,269.8 L829.4,269.3 L831.3,268.8 L833.3,268.4 L835.2,267.9 L837.2,267.4 L839.1,266.9 L841.1,266.4 L843.0,265.9 L845.0,265.4 L846.9,265.0 L848.9,264.5 L850.8,264.0 L852.7,263.5 L854.7,263.0 L856.6,262.5 L858.6,262.0 L860.5,261.5 L862.5,261.0 L864.4,260.4 L866.4,259.9 L868.3,259.4 L870.3,258.9 L872.2,258.4 L874.2,257.9 L876.1,257.4 L878.1,256.9 L880.0,256.4 L882.0,255.9 L883.9,255.4 L885.9,254.9 L887.8,254.4 L889.8,253.9 L891.7,253.4 L893.7,252.9 L895.6,252.4 L897.6,251.9 L899.5,251.5 L901.5,251.0 L903.4,250.5 L905.4,250.0 L907.4,249.5 L909.3,249.1 L911.3,248.6 L913.2,248.1 L915.2,247.7 L917.1,247.2 L919.1,246.8 L921.0,246.3 L923.0,245.9 L925.0,245.4 L926.9,245.0 L928.9,244.6 L930.8,244.1 L932.8,243.7 L934.7,243.3 L936.7,242.9 L938.7,242.5 L940.6,242.1 L942.6,241.7 L944.5,241.3 L946.5,240.9 L948.5,240.6 L950.4,240.2 L952.4,239.8 L954.4,239.5 L956.3,239.1 L958.3,238.8 L960.3,238.5 L962.2,238.1 L964.2,237.8 L966.2,237.5 L968.1,237.2 L970.1,236.9 L972.1,236.7 L974.0,236.4 L976.0,236.1 L978.0,235.9 L980.0,235.6 L981.9,235.4 L983.9,235.2 L985.9,235.0 L987.9,234.8 L989.8,234.6 L991.8,234.4 L993.8,234.2 L995.8,234.0 L997.8,233.9 L999.7,233.7 L1001.7,233.6 L1003.7,233.5 L1005.7,233.4 L1007.7,233.3 L1009.7,233.2 L1011.7,233.1 L1013.6,233.1 L1015.6,233.0 L1017.6,233.0 L1019.6,232.9 L1021.6,232.9 L1023.6,232.9 L1025.6,232.9 L1027.6,232.9 L1029.6,232.9 L1031.6,232.9 L1033.6,233.0 L1035.6,233.0 L1037.5,233.0 L1039.5,233.1 L1041.5,233.1 L1043.5,233.2 L1045.5,233.2 L1047.5,233.2 L1049.5,233.3 L1051.5,233.3 L1053.5,233.4 L1055.5,233.4 L1057.5,233.5 L1059.5,233.5 L1061.5,233.6 L1063.5,233.6 L1065.5,233.7 L1067.5,233.7 L1069.5,233.7 L1071.5,233.7 L1073.5,233.8 L1075.5,233.8 L1077.5,233.8 L1079.5,233.8 L1081.5,233.8 L1083.5,233.7 L1085.5,233.7 L1087.5,233.7 L1089.5,233.6 L1091.5,233.5 L1093.5,233.5 L1095.5,233.4 L1097.5,233.3 L1099.5,233.2 L1101.5,233.1 L1103.5,232.9 L1105.5,232.8 L1107.5,232.6 L1109.5,232.5 L1111.5,232.3 L1113.5,232.1 L1115.5,231.9 L1117.5,231.7 L1119.5,231.5 L1121.5,231.3 L1123.5,231.1 L1125.5,230.9 L1127.5,230.7 L1129.5,230.4 L1131.5,230.2 L1133.4,230.0 L1135.4,229.7 L1137.4,229.5 L1139.4,229.3 L1141.4,229.0 L1143.4,228.8 L1145.4,228.5 L1147.4,228.3 L1149.4,228.0 L1151.4,227.8 L1153.4,227.6 L1155.4,227.3 L1157.4,227.1 L1159.4,226.9 L1161.4,226.6 L1163.4,226.4 L1165.3,226.2 L1167.3,226.0 L1169.3,225.7 L1171.3,225.5 L1173.3,225.3 L1175.3,225.2 L1177.3,225.0 L1179.3,224.8 L1181.3,224.6 L1183.3,224.5 L1185.3,224.3 L1187.3,224.2 L1189.3,224.0 L1191.3,223.9 L1193.3,223.8 L1195.3,223.7 L1197.3,223.5 L1199.3,223.4 L1201.2,223.3 L1203.2,223.3 L1205.2,223.2 L1207.2,223.1 L1209.2,223.0 L1211.2,223.0 L1213.2,222.9 L1215.2,222.8 L1217.2,222.8 L1219.2,222.7 L1221.2,222.7 L1223.2,222.7 L1225.2,222.6 L1227.2,222.6 L1229.2,222.6 L1231.2,222.6 L1233.2,222.6 L1235.2,222.5 L1237.2,222.5 L1239.2,222.5 L1241.2,222.5 L1243.2,222.5 L1245.2,222.6 L1247.2,222.6 L1249.2,222.6 L1251.2,222.6 L1253.2,222.6 L1255.2,222.7 L1257.2,222.7 L1259.2,222.7 L1261.2,222.7 L1263.2,222.8 L1265.2,222.8 L1267.2,222.8 L1269.2,222.9 L1271.2,222.9 L1273.2,223.0 L1275.2,223.0 L1277.2,223.1 L1279.2,223.1 L1281.2,223.1 L1283.2,223.2 L1285.2,223.2 L1287.2,223.3 L1289.2,223.3 L1291.2,223.4 L1293.2,223.4 L1295.2,223.5 L1297.2,223.5 L1299.2,223.6 L1301.2,223.6 L1303.2,223.7 L1305.2,223.7 L1307.2,223.8 L1309.2,223.8 L1311.2,223.8 L1313.2,223.9 L1315.2,223.9 L1317.2,224.0 L1319.2,224.0 L1321.2,224.0 L1323.2,224.1 L1325.2,224.1 L1327.2,224.1 L1329.2,224.1 L1331.2,224.2 L1333.2,224.2 L1335.2,224.2 L1337.2,224.2 L1339.2,224.2 L1341.2,224.2 L1343.2,224.2 L1345.2,224.2 L1347.2,224.2 L1349.2,224.2 L1351.2,224.2 L1353.2,224.2 L1355.2,224.2 L1357.2,224.1 L1359.2,224.1 L1361.2,224.1 L1363.2,224.0 L1365.2,224.0 L1367.2,223.9 L1369.2,223.9 L1371.2,223.8 L1373.2,223.8 L1375.2,223.7 L1377.2,223.6 L1379.2,223.5 L1381.2,223.5 L1383.2,223.4 L1385.2,223.3 L1387.2,223.2 L1389.2,223.1 L1391.2,222.9 L1393.2,222.8 L1395.2,222.7 L1397.2,222.6 L1399.2,222.4 L1401.2,222.3 L1403.2,222.2 L1405.2,222.0 L1407.2,221.9 L1409.2,221.7 L1411.2,221.5 L1413.1,221.4 L1415.1,221.2 L1417.1,221.0 L1419.1,220.8 L1421.1,220.7 L1423.1,220.5 L1425.1,220.3 L1427.1,220.1 L1429.1,219.9 L1431.1,219.7 L1433.1,219.4 L1435.1,219.2 L1437.1,219.0 L1439.1,218.8 L1441.1,218.5 L1443.0,218.3 L1445.0,218.1 L1447.0,217.8 L1449.0,217.6 L1451.0,217.3 L1453.0,217.0 L1455.0,216.8 L1457.0,216.5 L1458.9,216.2 L1460.9,216.0 L1462.9,215.7 L1464.9,215.4 L1466.9,215.1 L1468.9,214.8 L1470.8,214.5 L1472.8,214.2 L1474.8,213.9 L1476.8,213.6 L1478.8,213.2 L1480.7,212.9 L1482.7,212.6 L1484.7,212.3 L1486.7,211.9 L1488.6,211.6 L1490.6,211.3 L1492.6,210.9 L1494.6,210.6 L1496.5,210.2 L1498.5,209.8 L1500.5,209.5 L1502.4,209.1 L1504.4,208.7 L1506.4,208.4 L1508.3,208.0 L1510.3,207.6 L1512.3,207.2 L1514.2,206.8 L1516.2,206.4 L1518.2,206.0 L1520.1,205.6 L1522.1,205.2 L1524.0,204.8 L1526.0,204.4 L1527.9,204.0 L1529.9,203.6 L1531.9,203.2 L1533.8,202.7 L1535.8,202.3 L1537.7,201.9 L1539.7,201.4 L1541.6,201.0 L1543.5,200.5 L1545.5,200.1 L1547.4,199.6 L1549.4,199.2 L1551.3,198.7 L1553.3,198.3 L1555.2,197.8 L1557.2,197.3 L1559.1,196.9 L1561.0,196.4 L1563.0,196.0 L1564.9,195.5 L1566.9,195.0 L1568.8,194.6 L1570.7,194.1 L1572.7,193.7 L1574.6,193.2 L1576.6,192.8 L1578.5,192.3 L1580.5,191.9 L1582.4,191.5 L1584.4,191.0 L1586.3,190.6 L1588.3,190.2 L1590.2,189.7 L1592.2,189.3 L1594.1,188.9 L1596.1,188.5 L1598.0,188.1 L1600.0,187.7 L1602.0,187.3 L1603.9,187.0 L1605.9,186.6 L1607.9,186.2 L1609.9,185.9 L1611.8,185.5 L1613.8,185.2 L1615.8,184.9 L1617.8,184.5 L1619.7,184.2 L1621.7,183.9 L1623.7,183.6 L1625.7,183.4 L1627.7,183.1 L1629.6,182.8 L1631.6,182.6 L1633.6,182.3 L1635.6,182.1 L1637.6,181.9 L1639.6,181.6 L1641.6,181.4 L1643.6,181.3 L1645.6,181.1 L1647.6,180.9 L1649.5,180.8 L1651.5,180.6 L1653.5,180.5 L1655.5,180.4 L1657.5,180.3 L1659.5,180.2 L1661.5,180.1 L1663.5,180.0 L1665.5,180.0 L1667.5,179.9 L1669.5,179.9 L1671.5,179.9 L1673.5,179.9 L1675.5,179.9 L1677.5,179.9 L1679.5,180.0 L1681.5,180.1 L1683.5,180.1 L1685.5,180.2 L1687.5,180.3 L1689.5,180.4 L1691.5,180.5 L1693.5,180.7 L1695.5,180.8 L1697.5,180.9 L1699.5,181.1 L1701.5,181.2 L1703.5,181.4 L1705.5,181.6 L1707.5,181.7 L1709.5,181.9 L1711.5,182.1 L1713.5,182.3 L1715.5,182.5 L1717.5,182.7 L1719.4,182.9 L1721.4,183.1 L1723.4,183.3 L1725.4,183.4 L1727.4,183.6 L1729.4,183.8 L1731.4,184.0 L1733.4,184.2 L1735.4,184.4 L1737.4,184.6 L1739.4,184.7 L1741.4,184.9 L1743.4,185.1 L1745.4,185.2 L1747.4,185.4 L1749.4,185.5 L1751.4,185.7 L1753.4,185.8 L1755.4,185.9 L1757.4,186.0 L1759.4,186.1 L1761.4,186.2 L1763.4,186.3 L1765.4,186.4 L1767.4,186.5 L1769.4,186.5 L1771.4,186.6 L1773.4,186.6 L1775.4,186.7 L1777.4,186.7 L1779.4,186.7 L1781.4,186.7 L1783.4,186.7 L1785.4,186.7 L1787.4,186.7 L1789.4,186.7 L1791.4,186.7 L1793.4,186.6 L1795.4,186.6 L1797.4,186.5 L1799.4,186.5 L1801.4,186.4 L1803.4,186.3 L1805.3,186.2 L1807.3,186.1 L1809.3,186.0 L1811.3,185.9 L1813.3,185.8 L1815.3,185.7 L1817.3,185.5 L1819.3,185.4 L1821.3,185.2 L1823.3,185.0 L1825.3,184.9 L1827.2,184.7 L1829.2,184.5 L1831.2,184.3 L1833.2,184.1 L1835.2,183.8 L1837.2,183.6 L1839.2,183.4 L1841.1,183.1 L1843.1,182.9 L1845.1,182.6 L1847.1,182.3 L1849.1,182.0 L1851.0,181.7 L1853.0,181.4 L1855.0,181.1 L1857.0,180.8 L1858.9,180.5 L1860.9,180.1 L1862.9,179.8 L1864.9,179.4 L1866.8,179.0 L1868.8,178.7 L1870.8,178.3 L1872.7,177.9 L1874.7,177.5 L1876.7,177.1 L1878.6,176.7 L1880.6,176.3 L1882.6,175.9 L1884.5,175.4 L1886.5,175.0 L1888.5,174.6 L1890.4,174.2 L1892.4,173.8 L1894.4,173.3 L1896.3,172.9 L1898.3,172.5 L1900.3,172.1 L1902.2,171.7 L1904.2,171.3 L1906.2,170.9 L1908.1,170.5 L1910.1,170.1 L1912.1,169.7 L1914.0,169.3 L1916.0,168.9 L1918.0,168.6 L1920.0,168.2 L1921.9,167.9 L1923.9,167.5 L1925.9,167.2 L1927.8,166.9 L1929.8,166.6 L1931.8,166.3 L1933.8,166.0 L1935.8,165.7 L1937.7,165.5 L1939.7,165.2 L1941.7,165.0 L1943.7,164.8 L1945.7,164.6 L1947.7,164.4 L1949.7,164.3 L1951.6,164.1 L1953.6,164.0 L1955.6,163.9 L1957.6,163.8 L1959.6,163.7 L1961.6,163.7 L1963.6,163.7 L1965.6,163.7 L1967.6,163.7 L1969.6,163.7 L1971.6,163.8 L1973.6,163.9 L1975.6,164.0 L1977.6,164.1 L1979.6,164.3 L1981.6,164.5 L1983.6,164.7 L1985.6,165.0 L1987.6,165.2 L1989.6,165.5 L1991.6,165.8 L1993.5,166.2 L1995.5,166.6 L1997.4,167.0 L1999.4,167.4 L2001.3,167.9 L2003.3,168.3 L2005.2,168.9 L2007.1,169.4 L2009.0,170.0 L2010.9,170.6 L2012.8,171.3 L2014.7,171.9 L2016.5,172.6 L2018.4,173.4 L2020.2,174.2 L2022.0,175.0 L2023.9,175.8 L2025.7,176.7 L2027.4,177.6 L2029.2,178.6 L2031.0,179.5 L2032.7,180.6 L2034.4,181.6 L2036.1,182.7 L2037.8,183.8 L2039.5,185.0"/>
<path stroke="#f00" d="M2056.5,146.5 L2056.5,251.3 L2056.0,253.2 L2055.4,255.1 L2054.8,257.0 L2054.3,258.9 L2053.7,260.8 L2053.0,262.7 L2052.4,264.7 L2051.8,266.6 L2051.1,268.5 L2050.4,270.4 L2049.7,272.3 L2049.0,274.2 L2048.3,276.1 L2047.5,278.0 L2046.8,279.9 L2046.0,281.8 L2045.2,283.7 L2044.3,285.5 L2043.5,287.4 L2042.6,289.2 L2041.7,291.0 L2040.8,292.9 L2039.9,294.7 L2038.9,296.4 L2037.9,298.2 L2036.9,300.0 L2035.9,301.7 L2034.9,303.4 L2033.8,305.1 L2032.7,306.8 L2031.6,308.4 L2030.4,310.0 L2029.2,311.6 L2028.0,313.2 L2026.8,314.7 L2025.5,316.3 L2024.2,317.7 L2022.9,319.2 L2021.6,320.6 L2020.2,322.0 L2018.8,323.4 L2017.3,324.7 L2015.9,326.0 L2014.4,327.3 L2012.9,328.5 L2011.3,329.7 L2009.7,330.9 L2008.1,332.0 L2006.5,333.1 L2004.9,334.2 L2003.2,335.3 L2001.5,336.3 L1999.8,337.3 L1998.1,338.2 L1996.3,339.1 L1994.5,340.1 L1992.8,340.9 L1991.0,341.8 L1989.2,342.6 L1987.3,343.4 L1985.5,344.2 L1983.7,345.0 L1981.8,345.7 L1980.0,346.4 L1978.1,347.1 L1976.2,347.8 L1974.4,348.5 L1972.5,349.1 L1970.6,349.7 L1968.7,350.3 L1966.8,350.9 L1964.9,351.5 L1963.0,352.0 L1961.1,352.6 L1959.2,353.1 L1957.2,353.6 L1955.3,354.1 L1953.4,354.5 L1951.4,355.0 L1949.5,355.4 L1947.6,355.9 L1945.6,356.3 L1943.7,356.7 L1941.7,357.1 L1939.7,357.4 L1937.8,357.8 L1935.8,358.1 L1933.8,358.5 L1931.9,358.8 L1929.9,359.1 L1927.9,359.4 L1925.9,359.7 L1923.9,360.0 L1921.9,360.2 L1920.0,360.5 L1918.0,360.7 L1916.0,361.0 L1914.0,361.2 L1912.0,361.5 L1910.0,361.7 L1908.0,361.9 L1906.0,362.1 L1904.0,362.3 L1901.9,362.5 L1899.9,362.7 L1897.9,362.9 L1895.9,363.1 L1893.9,363.2 L1891.9,363.4 L1889.9,363.6 L1887.9,363.7 L1885.8,363.9 L1883.8,364.1 L1881.8,364.2 L1879.8,364.4 L1877.8,364.5 L1875.8,364.7 L1873.8,364.8 L1871.7,365.0 L1869.7,365.1 L1867.7,365.3 L1865.7,365.4 L1863.7,365.6 L1861.7,365.7 L1859.7,365.9 L1857.6,366.1 L1855.6,366.2 L1853.6,366.4 L1851.6,366.5 L1849.6,366.7 L1847.6,366.8 L1845.6,367.0 L1843.6,367.1 L1841.6,367.3 L1839.6,367.4 L1837.6,367.6 L1835.6,367.7 L1833.6,367.9 L1831.5,368.1 L1829.5,368.2 L1827.5,368.4 L1825.5,368.5 L1823.5,368.7 L1821.5,368.8 L1819.5,369.0 L1817.5,369.1 L1815.5,369.3 L1813.5,369.4 L1811.5,369.6 L1809.5,369.7 L1807.5,369.9 L1805.5,370.1 L1803.5,370.2 L1801.5,370.4 L1799.5,370.5 L1797.5,370.7 L1795.5,370.8 L1793.5,371.0 L1791.5,371.1 L1789.5,371.3 L1787.5,371.4 L1785.5,371.6 L1783.5,371.7 L1781.5,371.9 L1779.6,372.0 L1777.6,372.2 L1775.6,372.3 L1773.6,372.5 L1771.6,372.7 L1769.6,372.8 L1767.6,373.0 L1765.6,373.1 L1763.6,373.3 L1761.6,373.4 L1759.6,373.6 L1757.6,373.7 L1755.6,373.9 L1753.6,374.0 L1751.6,374.2 L1749.6,374.3 L1747.6,374.4 L1745.7,374.6 L1743.7,374.7 L1741.7,374.9 L1739.7,375.0 L1737.7,375.2 L1735.7,375.3 L1733.7,375.5 L1731.7,375.6 L1729.7,375.8 L1727.7,375.9 L1725.7,376.1 L1723.7,376.2 L1721.8,376.3 L1719.8,376.5 L1717.8,376.6 L1715.8,376.8 L1713.8,376.9 L1711.8,377.1 L1709.8,377.2 L1707.8,377.3 L1705.8,377.5 L1703.8,377.6 L1701.8,377.8 L1699.9,377.9 L1697.9,378.0 L1695.9,378.2 L1693.9,378.3 L1691.9,378.5 L1689.9,378.6 L1687.9,378.7 L1685.9,378.9 L1683.9,379.0 L1681.9,379.1 L1679.9,379.3 L1678.0,379.4 L1676.0,379.5 L1674.0,379.7 L1672.0,379.8 L1670.0,379.9 L1668.0,380.1 L1666.0,380.2 L1664.0,380.3 L1662.0,380.5 L1660.0,380.6 L1658.0,380.7 L1656.0,380.9 L1654.1,381.0 L1652.1,381.1 L1650.1,381.2 L1648.1,381.4 L1646.1,381.5 L1644.1,381.6 L1642.1,381.7 L1640.1,381.9 L1638.1,382.0 L1636.1,382.1 L1634.1,382.2 L1632.1,382.4 L1630.1,382.5 L1628.1,382.6 L1626.1,382.7 L1624.2,382.8 L1622.2,383.0 L1620.2,383.1 L1618.2,383.2 L1616.2,383.3 L1614.2,383.4 L1612.2,383.5 L1610.2,383.7 L1608.2,383.8 L1606.2,383.9 L1604.2,384.0 L1602.2,384.1 L1600.2,384.2 L1598.2,384.4 L1596.2,384.5 L1594.2,384.6 L1592.2,384.7 L1590.2,384.8 L1588.2,384.9 L1586.2,385.0 L1584.2,385.1 L1582.2,385.3 L1580.3,385.4 L1578.3,385.5 L1576.3,385.6 L1574.3,385.7 L1572.3,385.8 L1570.3,385.9 L1568.3,386.0 L1566.3,386.1 L1564.3,386.3 L1562.3,386.4 L1560.3,386.5 L1558.3,386.6 L1556.3,386.7 L1554.3,386.8 L1552.3,386.9 L1550.3,387.0 L1548.3,387.1 L1546.3,387.2 L1544.3,387.3 L1542.3,387.4 L1540.3,387.6 L1538.3,387.7 L1536.3,387.8 L1534.3,387.9 L1532.3,388.0 L1530.3,388.1 L1528.3,388.2 L1526.3,388.3 L1524.3,388.4 L1522.3,388.5 L1520.3,388.6 L1518.3,388.7 L1516.3,388.8 L1514.3,388.9 L1512.3,389.1 L1510.3,389.2 L1508.3,389.3 L1506.3,389.4 L1504.3,389.5 L1502.3,389.6 L1500.3,389.7 L1498.3,389.8 L1496.3,389.9 L1494.3,390.0 L1492.3,390.1 L1490.3,390.2 L1488.3,390.3 L1486.3,390.5 L1484.3,390.6 L1482.3,390.7 L1480.3,390.8 L1478.3,390.9 L1476.3,391.0 L1474.3,391.1 L1472.3,391.2 L1470.3,391.3 L1468.3,391.4 L1466.3,391.5 L1464.3,391.7 L1462.3,391.8 L1460.3,391.9 L1458.4,392.0 L1456.4,392.1 L1454.4,392.2 L1452.4,392.3 L1450.4,392.4 L1448.4,392.5 L1446.4,392.6 L1444.4,392.8 L1442.4,392.9 L1440.4,393.0 L1438.4,393.1 L1436.4,393.2 L1434.4,393.3 L1432.4,393.4 L1430.4,393.6 L1428.4,393.7 L1426.4,393.8 L1424.4,393.9 L1422.4,394.0 L1420.4,394.1 L1418.4,394.3 L1416.4,394.4 L1414.4,394.5 L1412.4,394.6 L1410.4,394.7 L1408.4,394.8 L1406.4,395.0 L1404.4,395.1 L1402.4,395.2 L1400.4,395.3 L1398.4,395.4 L1396.4,395.6 L1394.4,395.7 L1392.4,395.8 L1390.4,395.9 L1388.4,396.1 L1386.4,396.2 L1384.4,396.3 L1382.4,396.4 L1380.4,396.6 L1378.4,396.7 L1376.4,396.8 L1374.4,396.9 L1372.4,397.1 L1370.4,397.2 L1368.4,397.3 L1366.4,397.5 L1364.4,397.6 L1362.4,397.7 L1360.4,397.9 L1358.4,398.0 L1356.4,398.1 L1354.4,398.3 L1352.4,398.4 L1350.4,398.5 L1348.4,398.7 L1346.4,398.8 L1344.4,398.9 L1342.4,399.1 L1340.4,399.2 L1338.4,399.4 L1336.4,399.5 L1334.4,399.6 L1332.4,399.8 L1330.4,399.9 L1328.4,400.1 L1326.4,400.2 L1324.4,400.4 L1322.4,400.5 L1320.4,400.6 L1318.4,400.8 L1316.4,400.9 L1314.4,401.1 L1312.5,401.2 L1310.5,401.4 L1308.5,401.5 L1306.5,401.7 L1304.5,401.9 L1302.5,402.0 L1300.5,402.2 L1298.5,402.3 L1296.5,402.5 L1294.5,402.6 L1292.5,402.8 L1290.5,403.0 L1288.5,403.1 L1286.5,403.3 L1284.5,403.4 L1282.5,403.6 L1280.5,403.8 L1278.5,403.9 L1276.5,404.1 L1274.5,404.3 L1272.5,404.4 L1270.5,404.6 L1268.5,404.8 L1266.6,405.0 L1264.6,405.1 L1262.6,405.3 L1260.6,405.5 L1258.6,405.7 L1256.6,405.8 L1254.6,406.0 L1252.6,406.2 L1250.6,406.4 L1248.6,406.5 L1246.6,406.7 L1244.6,406.9 L1242.6,407.1 L1240.6,407.3 L1238.6,407.5 L1236.6,407.7 L1234.7,407.9 L1232.7,408.0 L1230.7,408.2 L1228.7,408.4 L1226.7,408.6 L1224.7,408.8 L1222.7,409.0 L1220.7,409.2 L1218.7,409.4 L1216.7,409.6 L1214.7,409.8 L1212.7,410.0 L1210.8,410.2 L1208.8,410.4 L1206.8,410.6 L1204.8,410.8 L1202.8,411.1 L1200.8,411.3 L1198.8,411.5 L1196.8,411.7 L1194.8,411.9 L1192.8,412.1 L1190.9,412.3 L1188.9,412.6 L1186.9,412.8 L1184.9,413.0 L1182.9,413.2 L1180.9,413.5 L1178.9,413.7 L1176.9,413.9 L1174.9,414.1 L1173.0,414.4 L1171.0,414.6 L1169.0,414.8 L1167.0,415.1 L1165.0,415.3 L1163.0,415.5 L1161.0,415.8 L1159.1,416.0 L1157.1,416.3 L1155.1,416.5 L1153.1,416.8 L1151.1,417.0 L1149.1,417.3 L1147.1,417.5 L1145.1,417.8 L1143.2,418.0 L1141.2,418.3 L1139.2,418.5 L1137.2,418.8 L1135.2,419.0 L1133.2,419.3 L1131.3,419.6 L1129.3,419.8 L1127.3,420.1 L1125.3,420.4 L1123.3,420.6 L1121.3,420.9 L1119.4,421.2 L1117.4,421.4 L1115.4,421.7 L1113.4,422.0 L1111.4,422.3 L1109.4,422.6 L1107.5,422.8 L1105.5,423.1 L1103.5,423.4 L1101.5,423.7 L1099.5,424.0 L1097.6,424.3 L1095.6,424.6 L1093.6,424.9 L1091.6,425.2 L1089.6,425.5 L1087.7,425.8 L1085.7,426.1 L1083.7,426.4 L1081.7,426.7 L1079.7,427.0 L1077.8,427.3 L1075.8,427.6 L1073.8,427.9 L1071.8,428.2 L1069.9,428.5 L1067.9,428.8 L1065.9,429.1 L1063.9,429.4 L1062.0,429.8 L1060.0,430.1 L1058.0,430.4 L1056.0,430.7 L1054.0,431.0 L1052.1,431.4 L1050.1,431.7 L1048.1,432.0 L1046.1,432.4 L1044.2,432.7 L1042.2,433.0 L1040.2,433.3 L1038.3,433.7 L1036.3,434.0 L1034.3,434.4 L1032.3,434.7 L1030.4,435.0 L1028.4,435.4 L1026.4,435.7 L1024.4,436.1 L1022.5,436.4 L1020.5,436.7 L1018.5,437.1 L1016.5,437.4 L1014.6,437.8 L1012.6,438.1 L1010.6,438.5 L1008.7,438.8 L1006.7,439.2 L1004.7,439.5 L1002.8,439.9 L1000.8,440.3 L998.8,440.6 L996.8,441.0 L994.9,441.3 L992.9,441.7 L990.9,442.1 L989.0,442.4 L987.0,442.8 L985.0,443.1 L983.1,443.5 L981.1,443.9 L979.1,444.2 L977.2,444.6 L975.2,445.0 L973.2,445.4 L971.3,445.7 L969.3,446.1 L967.3,446.5 L965.4,446.9 L963.4,447.2 L961.4,447.6 L959.5,448.0 L957.5,448.4 L955.5,448.8 L953.6,449.1 L951.6,449.5 L949.7,449.9 L947.7,450.3 L945.7,450.7 L943.8,451.1 L941.8,451.6 L939.9,452.0 L937.9,452.4 L936.0,452.8 L934.0,453.3 L932.1,453.7 L930.1,454.2 L928.2,454.6 L926.2,455.1 L924.3,455.5 L922.4,456.0 L920.4,456.5 L918.5,457.0 L916.6,457.5 L914.6,458.0 L912.7,458.5 L910.8,459.1 L908.9,459.6 L907.0,460.2 L905.0,460.7 L903.1,461.3 L901.2,461.9 L899.3,462.5 L897.4,463.1 L895.5,463.7 L893.6,464.3 L891.7,465.0 L889.9,465.6 L888.0,466.3 L886.1,467.0 L884.2,467.7 L882.3,468.3 L880.5,469.0 L878.6,469.7 L876.7,470.4 L874.9,471.1 L873.0,471.8 L871.1,472.5 L869.2,473.2 L867.4,473.9 L865.5,474.6 L863.6,475.2 L861.7,475.9 L859.9,476.6 L858.0,477.2 L856.1,477.9 L854.2,478.5 L852.3,479.1 L850.4,479.7 L848.5,480.3 L846.6,480.9 L844.7,481.4 L842.8,482.0 L840.9,482.5 L839.0,483.0 L837.1,483.5 L835.1,484.0 L833.2,484.5 L831.3,484.9 L829.3,485.4 L827.4,485.8 L825.5,486.2 L823.5,486.6 L821.6,487.0 L819.6,487.4 L817.7,487.8 L815.7,488.1 L813.8,488.5 L811.8,488.8 L809.8,489.2 L807.9,489.5 L805.9,489.8 L803.9,490.1 L802.0,490.4 L800.0,490.7 L798.0,490.9 L796.0,491.2 L794.1,491.5 L792.1,491.7 L790.1,492.0 L788.1,492.2 L786.1,492.4 L784.1,492.7 L782.1,492.9 L780.1,493.1 L778.1,493.3 L776.2,493.5 L774.2,493.8 L772.2,494.0 L770.2,494.2 L768.2,494.4 L766.2,494.6 L764.2,494.8 L762.2,494.9 L760.2,495.1 L758.2,495.3 L756.2,495.5 L754.2,495.7 L752.2,495.9 L750.2,496.1 L748.2,496.3 L746.2,496.5 L744.2,496.7 L742.2,496.9 L740.2,497.1 L738.2,497.3 L736.2,497.5 L734.2,497.7 L732.2,497.9 L730.2,498.2 L728.2,498.4 L726.2,498.6 L724.2,498.9 L722.2,499.1 L720.2,499.4 L718.2,499.6 L716.3,499.9 L714.3,500.2 L712.3,500.4 L710.3,500.7 L708.3,501.0 L706.4,501.3 L704.4,501.7 L702.4,502.0 L700.4,502.3 L698.5,502.7 L696.5,503.0 L694.6,503.4 L692.6,503.8 L690.6,504.2 L688.7,504.6 L686.7,505.0 L684.8,505.4 L682.9,505.9 L680.9,506.3 L679.0,506.8 L677.0,507.3 L675.1,507.8 L673.2,508.3 L671.3,508.9 L669.4,509.4 L667.4,510.0 L665.5,510.6 L663.6,511.2 L661.7,511.8 L659.8,512.4 L657.9,513.0 L656.0,513.7 L654.2,514.4 L652.3,515.1 L650.4,515.8 L648.5,516.5 L646.7,517.2 L644.8,517.9 L642.9,518.7 L641.1,519.4 L639.2,520.2 L637.4,521.0 L635.5,521.8 L633.7,522.6 L631.9,523.4 L630.0,524.3 L628.2,525.1 L626.4,526.0 L624.6,526.8 L622.8,527.7 L621.0,528.6 L619.2,529.5 L617.4,530.4 L615.6,531.3 L613.8,532.3 L612.0,533.2 L610.2,534.2 L608.5,535.1 L606.7,536.1 L604.9,537.1 L603.2,538.1 L601.4,539.1 L599.7,540.1 L597.9,541.1 L596.2,542.1 L594.4,543.1 L592.7,544.2 L591.0,545.2 L589.3,546.3 L587.6,547.3 L585.9,548.4 L584.2,549.5 L582.5,550.5 L580.8,551.6 L579.1,552.7 L577.4,553.8 L575.7,555.0 L574.1,556.1 L572.4,557.2 L570.8,558.4 L569.2,559.5 L567.5,560.7 L565.9,561.9 L564.3,563.0 L562.7,564.2 L561.1,565.5 L559.6,566.7 L558.0,567.9 L556.4,569.2 L554.9,570.4 L553.4,571.7 L551.8,573.0 L550.3,574.3 L548.8,575.6 L547.4,576.9 L545.9,578.2 L544.4,579.6 L543.0,580.9 L541.6,582.3 L540.2,583.7 L538.8,585.1 L537.4,586.5 L536.0,588.0 L534.7,589.4 L533.3,590.9 L532.0,592.4 L530.7,593.9 L529.4,595.4 L528.1,596.9 L526.9,598.4 L525.6,600.0 L524.3,601.5 L523.1,603.1 L521.9,604.7 L520.7,606.3 L519.5,607.9 L518.3,609.5 L517.1,611.1 L515.9,612.7 L514.7,614.3 L513.6,616.0 L512.4,617.6 L511.3,619.3 L510.2,620.9 L509.1,622.6 L507.9,624.3 L506.8,625.9 L505.7,627.6 L504.7,629.3 L503.6,631.0 L502.5,632.7 L501.4,634.4 L500.4,636.1 L499.3,637.8 L498.2,639.5 L497.2,641.3 L496.1,643.0 L495.1,644.7 L494.1,646.4 L493.0,648.1 L492.0,649.9 L491.0,651.6 L489.9,653.3 L488.9,655.1 L487.9,656.8 L486.9,658.5 L485.9,660.2 L484.9,662.0 L483.9,663.7 L482.9,665.5 L481.9,667.2 L480.9,668.9 L479.9,670.7 L478.9,672.4 L477.9,674.2 L476.9,675.9 L475.9,677.6 L474.9,679.4 L474.0,681.1 L473.0,682.9 L472.0,684.6 L471.0,686.4 L470.1,688.1 L469.1,689.9 L468.1,691.6 L467.2,693.4 L466.2,695.1 L465.2,696.9 L464.3,698.6 L463.3,700.4 L462.3,702.1 L461.4,703.9 L460.4,705.6 L459.4,707.4 L458.5,709.1 L457.5,710.9 L456.6,712.6 L455.6,714.4 L454.6,716.1 L453.7,717.9 L452.7,719.6 L451.8,721.4 L450.8,723.1 L449.8,724.9 L448.9,726.6 L447.9,728.4 L447.0,730.1 L446.0,731.9 L445.0,733.6 L444.1,735.4 L443.1,737.1 L442.1,738.9 L441.2,740.6 L440.2,742.4 L439.2,744.1 L438.2,745.9 L437.3,747.6 L436.3,749.3 L435.3,751.1 L434.3,752.8 L433.3,754.6 L432.4,756.3 L431.4,758.0 L430.4,759.8 L429.4,761.5 L428.4,763.2 L427.4,765.0 L426.4,766.7 L425.4,768.4 L424.4,770.2 L423.4,771.9 L422.4,773.6 L421.3,775.3 L420.3,777.1 L419.3,778.8 L418.3,780.5 L417.3,782.2 L416.3,784.0 L415.2,785.7 L414.2,787.4 L413.2,789.1 L412.1,790.8 L411.1,792.6 L410.1,794.3 L409.1,796.0 L408.0,797.7 L407.0,799.4 L406.0,801.1 L404.9,802.9 L403.9,804.6 L402.9,806.3 L401.8,808.0 L400.8,809.7 L399.8,811.4 L398.8,813.2 L397.7,814.9 L396.7,816.6 L395.7,818.3 L394.6,820.0 L393.6,821.8 L392.6,823.5 L391.6,825.2 L390.6,826.9 L389.5,828.7 L388.5,830.4 L387.5,832.1 L386.5,833.8 L385.5,835.6 L384.5,837.3 L383.5,839.0 L382.5,840.8 L381.5,842.5 L380.5,844.2 L379.5,846.0 L378.5,847.7 L377.5,849.5 L376.6,851.2 L375.6,853.0 L374.6,854.7 L373.6,856.5 L372.7,858.2 L371.7,860.0 L370.8,861.7 L369.8,863.5 L368.9,865.2 L367.9,867.0 L367.0,868.8 L366.0,870.5 L365.1,872.3 L364.2,874.1 L363.3,875.9 L362.4,877.6 L361.4,879.4 L360.5,881.2 L359.6,883.0 L358.7,884.8 L357.8,886.6 L356.9,888.3 L356.0,890.1 L355.2,891.9 L354.3,893.7 L353.4,895.5 L352.5,897.3 L351.7,899.1 L350.8,900.9 L349.9,902.7 L349.1,904.5 L348.2,906.3 L347.4,908.2 L346.5,910.0 L345.7,911.8 L344.8,913.6 L344.0,915.4 L343.2,917.2 L342.4,919.1 L341.5,920.9 L340.7,922.7 L339.9,924.5 L339.1,926.4 L338.3,928.2 L337.5,930.0 L336.6,931.8 L335.8,933.7 L335.0,935.5 L334.2,937.3 L333.5,939.2 L332.7,941.0 L331.9,942.9 L331.1,944.7 L330.3,946.5 L329.5,948.4 L328.8,950.2 L328.0,952.1 L327.2,953.9 L326.5,955.8 L325.7,957.6 L324.9,959.5 L324.2,961.3 L323.4,963.2 L322.7,965.0 L321.9,966.9 L321.2,968.8 L320.4,970.6 L319.7,972.5 L319.0,974.3 L318.2,976.2 L317.5,978.1 L316.8,979.9 L316.0,981.8 L315.3,983.7 L314.6,985.5 L313.8,987.4 L313.1,989.3 L312.4,991.1 L311.7,993.0 L311.0,994.9 L310.3,996.7 L309.6,998.6 L308.9,1000.5 L308.2,1002.4 L307.4,1004.2 L306.7,1006.1 L306.0,1008.0 L305.4,1009.9 L304.7,1011.8 L304.0,1013.6 L303.3,1015.5 L302.6,1017.4 L301.9,1019.3 L301.2,1021.1 L300.5,1023.0 L299.8,1024.9 L299.2,1026.8 L298.5,1028.7 L297.8,1030.6 L297.1,1032.4 L296.5,1034.3 L295.8,1036.2 L295.1,1038.1 L294.4,1040.0 L293.8,1041.9 L293.1,1043.8 L292.4,1045.6 L291.8,1047.5 L291.1,1049.4 L290.5,1051.3 L289.8,1053.2 L289.1,1055.1 L288.5,1057.0 L287.8,1058.8 L287.2,1060.7 L286.5,1062.6 L285.9,1064.5 L285.2,1066.4 L285.1,1064.4 L285.1,1062.4 L285.0,1060.4 L285.0,1058.4 L284.9,1056.4 L284.9,1054.3 L284.9,1052.3 L284.8,1050.3 L284.8,1048.3 L284.8,1046.3 L284.7,1044.3 L284.7,1042.3 L284.7,1040.3 L284.6,1038.3 L284.6,1036.3 L284.6,1034.3 L284.6,1032.3 L284.6,1030.3 L284.6,1028.3 L284.5,1026.2 L284.5,1024.2 L284.5,1022.2 L284.5,1020.2 L284.5,1018.2 L284.5,1016.2 L284.5,1014.2 L284.5,1012.2 L284.5,1010.2 L284.5,1008.2 L284.5,1006.2 L284.6,1004.2 L284.6,1002.2 L284.6,1000.2 L284.6,998.2 L284.6,996.2 L284.6,994.2 L284.7,992.2 L284.7,990.2 L284.7,988.2 L284.8,986.2 L284.8,984.2 L284.8,982.2 L284.9,980.2 L284.9,978.2 L284.9,976.2 L285.0,974.2 L285.0,972.2 L285.1,970.2 L285.1,968.2 L285.2,966.2 L285.2,964.2 L285.3,962.2 L285.3,960.2 L285.4,958.2 L285.4,956.2 L285.5,954.2 L285.5,952.2 L285.6,950.2 L285.7,948.2 L285.7,946.2 L285.8,944.2 L285.9,942.2 L286.0,940.2 L286.0,938.2 L286.1,936.2 L286.2,934.2 L286.3,932.2 L286.3,930.2 L286.4,928.2 L286.5,926.2 L286.6,924.2 L286.7,922.2 L286.8,920.2 L286.8,918.2 L286.9,916.3 L287.0,914.3 L287.1,912.3 L287.2,910.3 L287.3,908.3 L287.4,906.3 L287.5,904.3 L287.6,902.3 L287.7,900.3 L287.8,898.3 L287.9,896.3 L288.0,894.3 L288.1,892.3 L288.3,890.3 L288.4,888.3 L288.5,886.3 L288.6,884.3 L288.7,882.3 L288.8,880.4 L288.9,878.4 L289.1,876.4 L289.2,874.4 L289.3,872.4 L289.4,870.4 L289.6,868.4 L289.7,866.4 L289.8,864.4 L289.9,862.4 L290.1,860.4 L290.2,858.4 L290.3,856.4 L290.5,854.4 L290.6,852.4 L290.7,850.5 L290.9,848.5 L291.0,846.5 L291.2,844.5 L291.3,842.5 L291.4,840.5 L291.6,838.5 L291.7,836.5 L291.9,834.5 L292.0,832.5 L292.2,830.5 L292.3,828.5 L292.5,826.6 L292.6,824.6 L292.8,822.6 L292.9,820.6 L293.1,818.6 L293.2,816.6 L293.4,814.6 L293.5,812.6 L293.7,810.6 L293.9,808.6 L294.0,806.6 L294.2,804.6 L294.3,802.7 L294.5,800.7 L294.7,798.7 L294.8,796.7 L295.0,794.7 L295.1,792.7 L295.3,790.7 L295.5,788.7 L295.7,786.7 L295.8,784.7 L296.0,782.7 L296.2,780.8 L296.3,778.8 L296.5,776.8 L296.7,774.8 L296.8,772.8 L297.0,770.8 L297.2,768.8 L297.4,766.8 L297.5,764.8 L297.7,762.8 L297.9,760.8 L298.1,758.9 L298.3,756.9 L298.4,754.9 L298.6,752.9 L298.8,750.9 L299.0,748.9 L299.2,746.9 L299.3,744.9 L299.5,742.9 L299.7,740.9 L299.9,738.9 L300.1,737.0 L300.3,735.0 L300.5,733.0 L300.6,731.0 L300.8,729.0 L301.0,727.0 L301.2,725.0 L301.4,723.0 L301.6,721.0 L301.8,719.0 L302.0,717.0 L302.1,715.1 L302.3,713.1 L302.5,711.1 L302.7,709.1 L302.9,707.1 L303.1,705.1 L303.3,703.1 L303.5,701.1 L303.7,699.1 L303.9,697.1 L304.1,695.1 L304.3,693.1 L304.4,691.2 L304.6,689.2 L304.8,687.2 L305.0,685.2 L305.2,683.2 L305.4,681.2 L305.6,679.2 L305.8,677.2 L306.0,675.2 L306.2,673.2 L306.4,671.2 L306.6,669.2 L306.8,667.2 L307.0,665.3 L307.2,663.3 L307.4,661.3 L307.6,659.3 L307.8,657.3 L308.0,655.3 L308.2,653.3 L308.4,651.3 L308.6,649.3 L308.8,647.3 L309.0,645.3 L309.1,643.3 L309.3,641.3 L309.5,639.3 L309.7,637.3 L309.9,635.3 L310.1,633.3 L310.3,631.4 L310.5,629.4 L310.7,627.4 L310.9,625.4 L311.1,623.4 L311.3,621.4 L311.5,619.4 L311.7,617.4 L311.9,615.4 L312.1,613.4 L312.3,611.4 L312.5,609.4 L312.7,607.4 L312.9,605.4 L313.1,603.4 L313.3,601.4 L313.5,599.4 L313.6,597.4 L313.8,595.4 L314.0,593.4 L314.2,591.4 L314.4,589.4 L314.6,587.4 L314.8,585.4 L315.0,583.4 L315.2,581.4 L315.4,579.5 L315.6,577.5 L315.8,575.5 L316.0,573.5 L316.2,571.5 L316.4,569.5 L316.6,567.5 L316.8,565.5 L317.0,563.5 L317.2,561.5 L317.4,559.5 L317.6,557.5 L317.8,555.5 L318.0,553.5 L318.3,551.5 L318.5,549.5 L318.7,547.5 L318.9,545.5 L319.1,543.5 L319.4,541.6 L319.6,539.6 L319.8,537.6 L320.0,535.6 L320.3,533.6 L320.5,531.6 L320.8,529.6 L321.0,527.6 L321.3,525.6 L321.5,523.7 L321.8,521.7 L322.0,519.7 L322.3,517.7 L322.5,515.7 L322.8,513.7 L323.1,511.8 L323.4,509.8 L323.6,507.8 L323.9,505.8 L324.2,503.8 L324.5,501.9 L324.8,499.9 L325.1,497.9 L325.4,495.9 L325.7,494.0 L326.0,492.0 L326.3,490.0 L326.7,488.1 L327.0,486.1 L327.3,484.1 L327.7,482.2 L328.0,480.2 L328.4,478.2 L328.7,476.3 L329.1,474.3 L329.5,472.4 L329.8,470.4 L330.2,468.4 L330.6,466.5 L331.0,464.5 L331.4,462.6 L331.8,460.6 L332.2,458.7 L332.6,456.7 L333.0,454.8 L333.5,452.8 L333.9,450.9 L334.3,449.0 L334.8,447.0 L335.2,445.1 L335.7,443.1 L336.2,441.2 L336.6,439.3 L337.1,437.3 L337.6,435.4 L338.1,433.5 L338.6,431.6 L339.1,429.6 L339.7,427.7 L340.2,425.8 L340.7,423.9 L341.3,422.0 L341.8,420.0 L342.4,418.1 L343.0,416.2 L343.5,414.3 L344.1,412.4 L344.7,410.5 L345.3,408.6 L345.9,406.7 L346.6,404.8 L347.2,402.9 L347.8,401.0 L348.5,399.1 L349.1,397.2 L349.8,395.3 L350.5,393.4 L351.2,391.6 L351.9,389.7 L352.6,387.8 L353.3,385.9 L354.0,384.0 L354.8,382.2 L355.5,380.3 L356.3,378.4 L357.0,376.6 L357.8,374.7 L358.6,372.9 L359.4,371.0 L360.2,369.1 L361.0,367.3 L361.9,365.5 L362.7,363.6 L363.6,361.8 L364.5,360.0 L365.4,358.2 L366.3,356.4 L367.3,354.7 L368.2,352.9 L369.2,351.2 L370.3,349.5 L371.3,347.8 L372.4,346.2 L373.5,344.5 L374.6,342.9 L375.8,341.4 L377.0,339.8 L378.3,338.3 L379.5,336.9 L380.9,335.5 L382.2,334.1 L383.6,332.7 L385.1,331.4 L386.5,330.2 L388.1,328.9 L389.6,327.8 L391.2,326.6 L392.8,325.5 L394.5,324.4 L396.2,323.4 L397.9,322.4 L399.6,321.5 L401.4,320.5 L403.2,319.7 L405.0,318.8 L406.8,318.0 L408.6,317.2 L410.5,316.4 L412.4,315.7 L414.3,315.0 L416.2,314.3 L418.1,313.7 L420.0,313.1 L421.9,312.5 L423.8,311.9 L425.8,311.4 L427.7,310.9 L429.7,310.4 L431.6,310.0 L433.6,309.5 L435.5,309.1 L437.5,308.7 L439.5,308.4 L441.5,308.0 L443.5,307.7 L445.4,307.4 L447.4,307.1 L449.4,306.8 L451.4,306.5 L453.4,306.3 L455.4,306.1 L457.5,305.9 L459.5,305.7 L461.5,305.5 L463.5,305.3 L465.5,305.2 L467.5,305.0 L469.6,304.9 L471.6,304.8 L473.6,304.7 L475.7,304.6 L477.7,304.5 L479.7,304.4 L481.7,304.3 L483.8,304.3 L485.8,304.2 L487.8,304.1 L489.9,304.1 L491.9,304.0 L493.9,304.0 L496.0,304.0 L498.0,303.9 L500.0,303.9 L502.1,303.9 L504.1,303.8 L506.1,303.8 L508.1,303.8 L510.2,303.7 L512.2,303.7 L514.2,303.7 L516.2,303.6 L518.2,303.6 L520.2,303.5 L522.2,303.5 L524.2,303.4 L526.2,303.4 L528.2,303.3 L530.2,303.3 L532.2,303.2 L534.2,303.2 L536.2,303.1 L538.2,303.0 L540.2,303.0 L542.2,302.9 L544.2,302.9 L546.2,302.8 L548.1,302.7 L550.1,302.7 L552.1,302.6 L554.1,302.5 L556.1,302.4 L558.1,302.4 L560.0,302.3 L562.0,302.2 L564.0,302.2 L566.0,302.1 L568.0,302.0 L569.9,301.9 L571.9,301.9 L573.9,301.8 L575.9,301.7 L577.9,301.6 L579.8,301.6 L581.8,301.5 L583.8,301.4 L585.8,301.3 L587.8,301.3 L589.8,301.2 L591.7,301.1 L593.7,301.1 L595.7,301.0 L597.7,300.9 L599.7,300.8 L601.7,300.8 L603.7,300.7 L605.7,300.6 L607.7,300.6 L609.6,300.5 L611.6,300.4 L613.6,300.4 L615.6,300.3 L617.6,300.2 L619.6,300.1 L621.6,300.1 L623.6,300.0 L625.6,299.9 L627.6,299.9 L629.6,299.8 L631.6,299.7 L633.6,299.6 L635.6,299.6 L637.6,299.5 L639.6,299.4 L641.6,299.4 L643.6,299.3 L645.6,299.2 L647.6,299.1 L649.6,299.1 L651.6,299.0 L653.6,298.9 L655.6,298.8 L657.6,298.8 L659.6,298.7 L661.6,298.6 L663.6,298.5 L665.6,298.4 L667.6,298.4 L669.6,298.3 L671.6,298.2 L673.6,298.1 L675.6,298.0 L677.6,297.9 L679.6,297.8 L681.6,297.7 L683.6,297.7 L685.6,297.6 L687.6,297.5 L689.6,297.4 L691.6,297.3 L693.6,297.2 L695.6,297.1 L697.6,297.0 L699.6,296.9 L701.6,296.8 L703.6,296.7 L705.6,296.6 L707.6,296.5 L709.6,296.4 L711.7,296.3 L713.7,296.1 L715.7,296.0 L717.7,295.9 L719.7,295.8 L721.7,295.7 L723.7,295.6 L725.7,295.4 L727.7,295.3 L729.7,295.2 L731.7,295.1 L733.7,294.9 L735.7,294.8 L737.7,294.7 L739.7,294.5 L741.7,294.4 L743.7,294.2 L745.7,294.1 L747.7,293.9 L749.7,293.8 L751.7,293.7 L753.7,293.5 L755.7,293.3 L757.6,293.2 L759.6,293.0 L761.6,292.9 L763.6,292.7 L765.6,292.5 L767.6,292.4 L769.6,292.2 L771.6,292.0 L773.6,291.8 L775.6,291.7 L777.6,291.5 L779.6,291.3 L781.6,291.1 L783.6,290.9 L785.5,290.7 L787.5,290.5 L789.5,290.3 L791.5,290.1 L793.5,289.9 L795.5,289.7 L797.5,289.5 L799.5,289.3 L801.4,289.0 L803.4,288.8 L805.4,288.6 L807.4,288.4 L809.4,288.1 L811.4,287.9 L813.3,287.6 L815.3,287.4 L817.3,287.1 L819.3,286.9 L821.3,286.6 L823.2,286.4 L825.2,286.1 L827.2,285.8 L829.2,285.6 L831.2,285.3 L833.1,285.0 L835.1,284.7 L837.1,284.4 L839.1,284.1 L841.0,283.8 L843.0,283.5 L845.0,283.2 L847.0,282.9 L848.9,282.6 L850.9,282.3 L852.9,282.0 L854.9,281.6 L856.8,281.3 L858.8,281.0 L860.8,280.6 L862.7,280.3 L864.7,279.9 L866.7,279.6 L868.7,279.2 L870.6,278.8 L872.6,278.5 L874.6,278.1 L876.5,277.7 L878.5,277.3 L880.5,276.9 L882.4,276.6 L884.4,276.2 L886.4,275.8 L888.3,275.4 L890.3,274.9 L892.2,274.5 L894.2,274.1 L896.2,273.7 L898.1,273.3 L900.1,272.9 L902.1,272.5 L904.0,272.1 L906.0,271.7 L908.0,271.2 L909.9,270.8 L911.9,270.4 L913.8,270.0 L915.8,269.6 L917.8,269.2 L919.7,268.8 L921.7,268.4 L923.7,267.9 L925.6,267.5 L927.6,267.1 L929.6,266.7 L931.5,266.3 L933.5,266.0 L935.5,265.6 L937.4,265.2 L939.4,264.8 L941.4,264.4 L943.3,264.1 L945.3,263.7 L947.3,263.3 L949.2,263.0 L951.2,262.7 L953.2,262.3 L955.2,262.0 L957.1,261.7 L959.1,261.3 L961.1,261.0 L963.1,260.7 L965.0,260.4 L967.0,260.1 L969.0,259.9 L971.0,259.6 L972.9,259.3 L974.9,259.1 L976.9,258.8 L978.9,258.6 L980.9,258.4 L982.9,258.2 L984.8,258.0 L986.8,257.8 L988.8,257.6 L990.8,257.4 L992.8,257.3 L994.8,257.1 L996.8,257.0 L998.8,256.9 L1000.8,256.7 L1002.8,256.6 L1004.8,256.5 L1006.8,256.4 L1008.7,256.3 L1010.7,256.2 L1012.7,256.1 L1014.7,256.0 L1016.7,255.9 L1018.7,255.9 L1020.7,255.8 L1022.7,255.7 L1024.7,255.7 L1026.7,255.6 L1028.7,255.5 L1030.7,255.5 L1032.7,255.4 L1034.7,255.4 L1036.7,255.3 L1038.8,255.3 L1040.8,255.2 L1042.8,255.2 L1044.8,255.1 L1046.8,255.0 L1048.8,255.0 L1050.8,254.9 L1052.8,254.9 L1054.8,254.8 L1056.8,254.7 L1058.8,254.6 L1060.8,254.6 L1062.8,254.5 L1064.8,254.4 L1066.8,254.3 L1068.8,254.2 L1070.8,254.1 L1072.8,254.0 L1074.8,253.9 L1076.8,253.7 L1078.8,253.6 L1080.7,253.5 L1082.7,253.3 L1084.7,253.2 L1086.7,253.0 L1088.7,252.8 L1090.7,252.6 L1092.7,252.4 L1094.7,252.2 L1096.7,252.0 L1098.7,251.8 L1100.7,251.5 L1102.6,251.3 L1104.6,251.0 L1106.6,250.8 L1108.6,250.5 L1110.6,250.2 L1112.6,249.9 L1114.5,249.7 L1116.5,249.4 L1118.5,249.1 L1120.5,248.8 L1122.5,248.5 L1124.4,248.2 L1126.4,247.8 L1128.4,247.5 L1130.4,247.2 L1132.4,246.9 L1134.3,246.6 L1136.3,246.3 L1138.3,246.0 L1140.3,245.7 L1142.3,245.4 L1144.2,245.1 L1146.2,244.8 L1148.2,244.5 L1150.2,244.2 L1152.2,243.9 L1154.1,243.6 L1156.1,243.3 L1158.1,243.1 L1160.1,242.8 L1162.1,242.5 L1164.1,242.3 L1166.0,242.0 L1168.0,241.8 L1170.0,241.6 L1172.0,241.3 L1174.0,241.1 L1176.0,240.9 L1178.0,240.6 L1180.0,240.4 L1181.9,240.2 L1183.9,240.0 L1185.9,239.8 L1187.9,239.6 L1189.9,239.4 L1191.9,239.2 L1193.9,239.0 L1195.9,238.8 L1197.9,238.7 L1199.9,238.5 L1201.8,238.3 L1203.8,238.2 L1205.8,238.0 L1207.8,237.8 L1209.8,237.7 L1211.8,237.5 L1213.8,237.4 L1215.8,237.2 L1217.8,237.1 L1219.8,236.9 L1221.8,236.8 L1223.8,236.7 L1225.8,236.5 L1227.8,236.4 L1229.8,236.3 L1231.8,236.2 L1233.7,236.1 L1235.7,235.9 L1237.7,235.8 L1239.7,235.7 L1241.7,235.6 L1243.7,235.5 L1245.7,235.4 L1247.7,235.3 L1249.7,235.2 L1251.7,235.1 L1253.7,235.0 L1255.7,234.9 L1257.7,234.8 L1259.7,234.7 L1261.7,234.7 L1263.7,234.6 L1265.7,234.5 L1267.7,234.4 L1269.7,234.3 L1271.7,234.3 L1273.7,234.2 L1275.7,234.1 L1277.7,234.0 L1279.7,234.0 L1281.7,233.9 L1283.7,233.8 L1285.7,233.8 L1287.7,233.7 L1289.7,233.6 L1291.7,233.6 L1293.7,233.5 L1295.7,233.5 L1297.7,233.4 L1299.7,233.3 L1301.7,233.3 L1303.7,233.2 L1305.7,233.2 L1307.7,233.1 L1309.7,233.1 L1311.7,233.0 L1313.7,233.0 L1315.7,232.9 L1317.7,232.8 L1319.7,232.8 L1321.7,232.7 L1323.7,232.7 L1325.7,232.6 L1327.7,232.6 L1329.7,232.5 L1331.7,232.5 L1333.7,232.4 L1335.7,232.4 L1337.7,232.3 L1339.7,232.3 L1341.7,232.2 L1343.7,232.1 L1345.7,232.1 L1347.7,232.0 L1349.7,232.0 L1351.7,231.9 L1353.7,231.9 L1355.7,231.8 L1357.7,231.7 L1359.7,231.7 L1361.7,231.6 L1363.7,231.6 L1365.7,231.5 L1367.7,231.4 L1369.7,231.4 L1371.7,231.3 L1373.7,231.2 L1375.7,231.1 L1377.7,231.1 L1379.7,231.0 L1381.7,230.9 L1383.7,230.8 L1385.7,230.8 L1387.7,230.7 L1389.7,230.6 L1391.7,230.5 L1393.7,230.4 L1395.7,230.3 L1397.7,230.2 L1399.7,230.2 L1401.7,230.1 L1403.7,230.0 L1405.7,229.9 L1407.7,229.8 L1409.7,229.7 L1411.6,229.5 L1413.6,229.4 L1415.6,229.3 L1417.6,229.2 L1419.6,229.1 L1421.6,229.0 L1423.6,228.8 L1425.6,228.7 L1427.6,228.6 L1429.6,228.5 L1431.6,228.3 L1433.6,228.2 L1435.6,228.0 L1437.6,227.9 L1439.5,227.7 L1441.5,227.6 L1443.5,227.4 L1445.5,227.3 L1447.5,227.1 L1449.5,226.9 L1451.5,226.8 L1453.5,226.6 L1455.5,226.4 L1457.4,226.2 L1459.4,226.0 L1461.4,225.8 L1463.4,225.7 L1465.4,225.5 L1467.4,225.2 L1469.3,225.0 L1471.3,224.8 L1473.3,224.6 L1475.3,224.4 L1477.3,224.2 L1479.3,223.9 L1481.2,223.7 L1483.2,223.5 L1485.2,223.2 L1487.2,223.0 L1489.2,222.7 L1491.1,222.5 L1493.1,222.2 L1495.1,221.9 L1497.1,221.6 L1499.1,221.4 L1501.0,221.1 L1503.0,220.8 L1505.0,220.5 L1507.0,220.2 L1508.9,219.9 L1510.9,219.6 L1512.9,219.3 L1514.9,218.9 L1516.8,218.6 L1518.8,218.3 L1520.8,217.9 L1522.7,217.6 L1524.7,217.2 L1526.7,216.9 L1528.7,216.5 L1530.6,216.1 L1532.6,215.8 L1534.6,215.4 L1536.5,215.0 L1538.5,214.6 L1540.5,214.2 L1542.4,213.8 L1544.4,213.4 L1546.4,212.9 L1548.3,212.5 L1550.3,212.1 L1552.2,211.7 L1554.2,211.2 L1556.2,210.8 L1558.1,210.4 L1560.1,209.9 L1562.1,209.5 L1564.0,209.1 L1566.0,208.6 L1567.9,208.2 L1569.9,207.7 L1571.9,207.3 L1573.8,206.8 L1575.8,206.4 L1577.7,205.9 L1579.7,205.5 L1581.7,205.1 L1583.6,204.6 L1585.6,204.2 L1587.6,203.8 L1589.5,203.3 L1591.5,202.9 L1593.4,202.5 L1595.4,202.1 L1597.4,201.7 L1599.3,201.2 L1601.3,200.8 L1603.3,200.4 L1605.2,200.1 L1607.2,199.7 L1609.2,199.3 L1611.1,198.9 L1613.1,198.6 L1615.1,198.2 L1617.0,197.8 L1619.0,197.5 L1621.0,197.2 L1623.0,196.8 L1624.9,196.5 L1626.9,196.2 L1628.9,195.9 L1630.9,195.6 L1632.8,195.4 L1634.8,195.1 L1636.8,194.9 L1638.8,194.6 L1640.8,194.4 L1642.7,194.2 L1644.7,194.0 L1646.7,193.8 L1648.7,193.6 L1650.7,193.4 L1652.7,193.3 L1654.7,193.1 L1656.7,193.0 L1658.7,192.9 L1660.7,192.8 L1662.6,192.7 L1664.6,192.6 L1666.6,192.5 L1668.6,192.5 L1670.6,192.4 L1672.6,192.4 L1674.6,192.3 L1676.6,192.3 L1678.6,192.3 L1680.6,192.2 L1682.6,192.2 L1684.6,192.2 L1686.7,192.2 L1688.7,192.2 L1690.7,192.2 L1692.7,192.3 L1694.7,192.3 L1696.7,192.3 L1698.7,192.3 L1700.7,192.4 L1702.7,192.4 L1704.7,192.4 L1706.7,192.5 L1708.7,192.5 L1710.7,192.5 L1712.7,192.6 L1714.7,192.6 L1716.8,192.7 L1718.8,192.7 L1720.8,192.7 L1722.8,192.8 L1724.8,192.8 L1726.8,192.9 L1728.8,192.9 L1730.8,192.9 L1732.8,192.9 L1734.8,193.0 L1736.8,193.0 L1738.8,193.0 L1740.8,193.0 L1742.9,193.0 L1744.9,193.0 L1746.9,193.0 L1748.9,193.0 L1750.9,193.0 L1752.9,192.9 L1754.9,192.9 L1756.9,192.9 L1758.9,192.8 L1760.9,192.8 L1762.9,192.7 L1764.9,192.6 L1766.9,192.6 L1768.9,192.5 L1770.9,192.4 L1772.9,192.3 L1774.9,192.2 L1776.9,192.1 L1778.8,192.0 L1780.8,191.8 L1782.8,191.7 L1784.8,191.6 L1786.8,191.4 L1788.8,191.3 L1790.8,191.1 L1792.8,190.9 L1794.8,190.8 L1796.8,190.6 L1798.7,190.4 L1800.7,190.2 L1802.7,190.0 L1804.7,189.8 L1806.7,189.5 L1808.6,189.3 L1810.6,189.1 L1812.6,188.8 L1814.6,188.6 L1816.6,188.3 L1818.5,188.1 L1820.5,187.8 L1822.5,187.5 L1824.5,187.2 L1826.4,186.9 L1828.4,186.6 L1830.4,186.3 L1832.3,186.0 L1834.3,185.7 L1836.3,185.3 L1838.2,185.0 L1840.2,184.6 L1842.2,184.3 L1844.1,183.9 L1846.1,183.5 L1848.0,183.2 L1850.0,182.8 L1851.9,182.4 L1853.9,182.0 L1855.9,181.5 L1857.8,181.1 L1859.8,180.7 L1861.7,180.2 L1863.7,179.8 L1865.6,179.3 L1867.5,178.9 L1869.5,178.4 L1871.4,177.9 L1873.4,177.4 L1875.3,177.0 L1877.3,176.5 L1879.2,176.0 L1881.1,175.5 L1883.1,174.9 L1885.0,174.4 L1887.0,173.9 L1888.9,173.4 L1890.8,172.9 L1892.8,172.3 L1894.7,171.8 L1896.6,171.3 L1898.6,170.7 L1900.5,170.2 L1902.4,169.6 L1904.4,169.1 L1906.3,168.5 L1908.2,168.0 L1910.2,167.4 L1912.1,166.9 L1914.0,166.3 L1916.0,165.8 L1917.9,165.2 L1919.8,164.7 L1921.7,164.1 L1923.7,163.6 L1925.6,163.1 L1927.5,162.5 L1929.5,162.0 L1931.4,161.4 L1933.3,160.9 L1935.3,160.4 L1937.2,159.8 L1939.1,159.3 L1941.1,158.8 L1943.0,158.3 L1945.0,157.7 L1946.9,157.2 L1948.8,156.7 L1950.8,156.2 L1952.7,155.7 L1954.6,155.2 L1956.6,154.7 L1958.5,154.3 L1960.5,153.8 L1962.4,153.3 L1964.4,152.9 L1966.3,152.4 L1968.3,152.0 L1970.2,151.5 L1972.2,151.1 L1974.1,150.7 L1976.1,150.3 L1978.0,149.9 L1980.0,149.5 L1981.9,149.1 L1983.9,148.7 L1985.8,148.4 L1987.8,148.0 L1989.8,147.7 L1991.7,147.4 L1993.7,147.0 L1995.7,146.7 L1997.6,146.4 L1999.6,146.2 L2001.6,145.9 L2003.6,145.6 L2005.5,145.4 L2007.5,145.2 L2009.5,144.9 L2011.5,144.7 L2013.5,144.5 L2015.5,144.4 L2017.4,144.2 L2019.4,144.1 L2021.4,143.9 L2023.4,143.8 L2025.4,143.7 L2027.4,143.6 L2029.4,143.6 L2031.4,143.5 L2033.5,143.5 L2035.5,143.5 L2037.5,143.5 L2039.5,143.5"/>
<path stroke="#00f" d="M2056.5,146.3 L2056.5,210.3 L2056.0,212.1 L2055.6,214.0 L2055.1,215.9 L2054.7,217.7 L2054.2,219.6 L2053.8,221.5 L2053.3,223.4 L2052.9,225.3 L2052.4,227.3 L2051.9,229.2 L2051.5,231.1 L2051.0,233.1 L2050.5,235.0 L2050.0,237.0 L2049.5,238.9 L2049.0,240.9 L2048.5,242.9 L2048.0,244.8 L2047.5,246.8 L2046.9,248.7 L2046.4,250.7 L2045.8,252.7 L2045.3,254.6 L2044.7,256.6 L2044.1,258.6 L2043.5,260.5 L2042.8,262.5 L2042.2,264.4 L2041.5,266.4 L2040.9,268.3 L2040.2,270.2 L2039.5,272.1 L2038.8,274.1 L2038.0,276.0 L2037.3,277.8 L2036.5,279.7 L2035.7,281.6 L2034.9,283.5 L2034.0,285.3 L2033.2,287.1 L2032.3,289.0 L2031.4,290.8 L2030.4,292.6 L2029.5,294.3 L2028.5,296.1 L2027.5,297.8 L2026.5,299.6 L2025.4,301.3 L2024.4,303.0 L2023.3,304.6 L2022.2,306.3 L2021.0,307.9 L2019.9,309.5 L2018.7,311.1 L2017.5,312.7 L2016.2,314.3 L2015.0,315.8 L2013.7,317.3 L2012.4,318.8 L2011.1,320.2 L2009.7,321.7 L2008.4,323.1 L2007.0,324.4 L2005.6,325.8 L2004.1,327.1 L2002.7,328.4 L2001.2,329.7 L1999.7,331.0 L1998.2,332.2 L1996.6,333.4 L1995.0,334.5 L1993.5,335.7 L1991.8,336.8 L1990.2,337.8 L1988.6,338.9 L1986.9,339.9 L1985.2,340.9 L1983.5,341.8 L1981.8,342.8 L1980.0,343.7 L1978.3,344.6 L1976.5,345.4 L1974.7,346.3 L1972.9,347.1 L1971.1,347.8 L1969.3,348.6 L1967.4,349.3 L1965.6,350.0 L1963.7,350.7 L1961.8,351.3 L1960.0,352.0 L1958.1,352.6 L1956.2,353.1 L1954.3,353.7 L1952.3,354.2 L1950.4,354.7 L1948.5,355.2 L1946.5,355.7 L1944.6,356.1 L1942.6,356.6 L1940.6,357.0 L1938.7,357.4 L1936.7,357.8 L1934.7,358.1 L1932.7,358.5 L1930.7,358.8 L1928.7,359.1 L1926.7,359.4 L1924.7,359.7 L1922.7,360.0 L1920.7,360.2 L1918.7,360.5 L1916.6,360.8 L1914.6,361.0 L1912.6,361.2 L1910.6,361.4 L1908.5,361.7 L1906.5,361.9 L1904.5,362.1 L1902.4,362.3 L1900.4,362.4 L1898.4,362.6 L1896.3,362.8 L1894.3,363.0 L1892.3,363.2 L1890.2,363.4 L1888.2,363.5 L1886.2,363.7 L1884.2,363.9 L1882.1,364.1 L1880.1,364.2 L1878.1,364.4 L1876.1,364.6 L1874.0,364.8 L1872.0,364.9 L1870.0,365.1 L1868.0,365.3 L1866.0,365.5 L1864.0,365.6 L1862.0,365.8 L1859.9,366.0 L1857.9,366.1 L1855.9,366.3 L1853.9,366.5 L1851.9,366.6 L1849.9,366.8 L1847.9,367.0 L1845.9,367.1 L1843.9,367.3 L1841.9,367.5 L1839.9,367.6 L1837.9,367.8 L1835.9,367.9 L1833.9,368.1 L1831.9,368.3 L1829.9,368.4 L1827.9,368.6 L1825.9,368.7 L1823.9,368.9 L1821.9,369.1 L1819.9,369.2 L1818.0,369.4 L1816.0,369.5 L1814.0,369.7 L1812.0,369.8 L1810.0,370.0 L1808.0,370.1 L1806.0,370.3 L1804.0,370.4 L1802.0,370.6 L1800.1,370.7 L1798.1,370.9 L1796.1,371.0 L1794.1,371.2 L1792.1,371.3 L1790.1,371.5 L1788.1,371.6 L1786.2,371.8 L1784.2,371.9 L1782.2,372.1 L1780.2,372.2 L1778.2,372.3 L1776.2,372.5 L1774.3,372.6 L1772.3,372.8 L1770.3,372.9 L1768.3,373.0 L1766.3,373.2 L1764.4,373.3 L1762.4,373.4 L1760.4,373.6 L1758.4,373.7 L1756.4,373.9 L1754.4,374.0 L1752.5,374.1 L1750.5,374.3 L1748.5,374.4 L1746.5,374.5 L1744.5,374.6 L1742.5,374.8 L1740.6,374.9 L1738.6,375.0 L1736.6,375.2 L1734.6,375.3 L1732.6,375.4 L1730.6,375.5 L1728.6,375.7 L1726.7,375.8 L1724.7,375.9 L1722.7,376.0 L1720.7,376.2 L1718.7,376.3 L1716.7,376.4 L1714.7,376.5 L1712.7,376.6 L1710.7,376.8 L1708.8,376.9 L1706.8,377.0 L1704.8,377.1 L1702.8,377.2 L1700.8,377.3 L1698.8,377.5 L1696.8,377.6 L1694.8,377.7 L1692.8,377.8 L1690.8,377.9 L1688.8,378.0 L1686.8,378.1 L1684.9,378.2 L1682.9,378.4 L1680.9,378.5 L1678.9,378.6 L1676.9,378.7 L1674.9,378.8 L1672.9,378.9 L1670.9,379.0 L1668.9,379.1 L1666.9,379.2 L1664.9,379.3 L1662.9,379.4 L1660.9,379.5 L1658.9,379.6 L1656.9,379.7 L1654.9,379.8 L1652.9,380.0 L1650.9,380.1 L1648.9,380.2 L1646.9,380.3 L1644.9,380.4 L1642.9,380.5 L1640.9,380.6 L1638.9,380.7 L1636.9,380.8 L1634.9,380.9 L1632.9,381.0 L1630.9,381.1 L1628.9,381.2 L1626.9,381.3 L1624.9,381.4 L1622.9,381.5 L1620.9,381.6 L1618.9,381.7 L1616.9,381.8 L1614.9,381.9 L1612.9,382.0 L1610.9,382.0 L1608.9,382.1 L1606.9,382.2 L1604.9,382.3 L1602.9,382.4 L1600.9,382.5 L1598.9,382.6 L1596.9,382.7 L1594.9,382.8 L1592.9,382.9 L1590.9,383.0 L1588.9,383.1 L1586.9,383.2 L1584.9,383.3 L1582.9,383.4 L1580.9,383.5 L1578.9,383.6 L1576.9,383.7 L1574.9,383.8 L1572.9,383.8 L1570.9,383.9 L1568.9,384.0 L1566.9,384.1 L1564.9,384.2 L1562.8,384.3 L1560.8,384.4 L1558.8,384.5 L1556.8,384.6 L1554.8,384.7 L1552.8,384.8 L1550.8,384.9 L1548.8,385.0 L1546.8,385.1 L1544.8,385.2 L1542.8,385.2 L1540.8,385.3 L1538.8,385.4 L1536.8,385.5 L1534.8,385.6 L1532.8,385.7 L1530.8,385.8 L1528.8,385.9 L1526.8,386.0 L1524.8,386.1 L1522.8,386.2 L1520.8,386.3 L1518.8,386.4 L1516.8,386.5 L1514.8,386.6 L1512.7,386.6 L1510.7,386.7 L1508.7,386.8 L1506.7,386.9 L1504.7,387.0 L1502.7,387.1 L1500.7,387.2 L1498.7,387.3 L1496.7,387.4 L1494.7,387.5 L1492.7,387.6 L1490.7,387.7 L1488.7,387.8 L1486.7,387.9 L1484.7,388.0 L1482.7,388.1 L1480.7,388.2 L1478.7,388.3 L1476.7,388.4 L1474.7,388.5 L1472.7,388.6 L1470.7,388.7 L1468.7,388.8 L1466.7,388.9 L1464.7,389.0 L1462.7,389.1 L1460.7,389.2 L1458.7,389.3 L1456.7,389.4 L1454.7,389.5 L1452.7,389.6 L1450.7,389.7 L1448.7,389.8 L1446.7,389.9 L1444.7,390.0 L1442.7,390.1 L1440.7,390.2 L1438.7,390.3 L1436.7,390.4 L1434.7,390.5 L1432.7,390.6 L1430.7,390.7 L1428.7,390.8 L1426.7,390.9 L1424.7,391.0 L1422.7,391.1 L1420.7,391.2 L1418.7,391.3 L1416.7,391.4 L1414.7,391.6 L1412.7,391.7 L1410.7,391.8 L1408.7,391.9 L1406.7,392.0 L1404.7,392.1 L1402.7,392.2 L1400.7,392.3 L1398.7,392.4 L1396.7,392.6 L1394.7,392.7 L1392.7,392.8 L1390.7,392.9 L1388.7,393.0 L1386.7,393.1 L1384.7,393.3 L1382.7,393.4 L1380.7,393.5 L1378.7,393.6 L1376.8,393.7 L1374.8,393.8 L1372.8,394.0 L1370.8,394.1 L1368.8,394.2 L1366.8,394.3 L1364.8,394.4 L1362.8,394.6 L1360.8,394.7 L1358.8,394.8 L1356.8,394.9 L1354.8,395.1 L1352.8,395.2 L1350.8,395.3 L1348.8,395.4 L1346.8,395.6 L1344.8,395.7 L1342.8,395.8 L1340.8,396.0 L1338.8,396.1 L1336.8,396.2 L1334.8,396.4 L1332.9,396.5 L1330.9,396.6 L1328.9,396.8 L1326.9,396.9 L1324.9,397.0 L1322.9,397.2 L1320.9,397.3 L1318.9,397.4 L1316.9,397.6 L1314.9,397.7 L1312.9,397.9 L1310.9,398.0 L1308.9,398.1 L1306.9,398.3 L1304.9,398.4 L1302.9,398.6 L1301.0,398.7 L1299.0,398.9 L1297.0,399.0 L1295.0,399.2 L1293.0,399.3 L1291.0,399.5 L1289.0,399.6 L1287.0,399.8 L1285.0,399.9 L1283.0,400.1 L1281.0,400.2 L1279.0,400.4 L1277.0,400.5 L1275.0,400.7 L1273.1,400.8 L1271.1,401.0 L1269.1,401.2 L1267.1,401.3 L1265.1,401.5 L1263.1,401.6 L1261.1,401.8 L1259.1,402.0 L1257.1,402.1 L1255.1,402.3 L1253.1,402.5 L1251.1,402.6 L1249.1,402.8 L1247.2,403.0 L1245.2,403.1 L1243.2,403.3 L1241.2,403.5 L1239.2,403.6 L1237.2,403.8 L1235.2,404.0 L1233.2,404.2 L1231.2,404.3 L1229.2,404.5 L1227.2,404.7 L1225.2,404.9 L1223.2,405.1 L1221.3,405.2 L1219.3,405.4 L1217.3,405.6 L1215.3,405.8 L1213.3,406.0 L1211.3,406.2 L1209.3,406.4 L1207.3,406.5 L1205.3,406.7 L1203.3,406.9 L1201.3,407.1 L1199.3,407.3 L1197.4,407.5 L1195.4,407.7 L1193.4,407.9 L1191.4,408.1 L1189.4,408.3 L1187.4,408.5 L1185.4,408.7 L1183.4,408.9 L1181.4,409.1 L1179.4,409.3 L1177.4,409.5 L1175.4,409.7 L1173.5,409.9 L1171.5,410.1 L1169.5,410.4 L1167.5,410.6 L1165.5,410.8 L1163.5,411.0 L1161.5,411.2 L1159.5,411.4 L1157.5,411.7 L1155.5,411.9 L1153.5,412.1 L1151.5,412.3 L1149.6,412.5 L1147.6,412.8 L1145.6,413.0 L1143.6,413.2 L1141.6,413.4 L1139.6,413.7 L1137.6,413.9 L1135.6,414.1 L1133.6,414.4 L1131.6,414.6 L1129.6,414.8 L1127.6,415.1 L1125.7,415.3 L1123.7,415.5 L1121.7,415.8 L1119.7,416.0 L1117.7,416.2 L1115.7,416.5 L1113.7,416.7 L1111.7,416.9 L1109.7,417.2 L1107.7,417.4 L1105.7,417.7 L1103.7,417.9 L1101.8,418.1 L1099.8,418.4 L1097.8,418.6 L1095.8,418.9 L1093.8,419.1 L1091.8,419.4 L1089.8,419.6 L1087.8,419.8 L1085.8,420.1 L1083.8,420.3 L1081.8,420.6 L1079.8,420.8 L1077.9,421.1 L1075.9,421.3 L1073.9,421.5 L1071.9,421.8 L1069.9,422.0 L1067.9,422.3 L1065.9,422.5 L1063.9,422.7 L1061.9,423.0 L1059.9,423.2 L1058.0,423.5 L1056.0,423.7 L1054.0,424.0 L1052.0,424.2 L1050.0,424.4 L1048.0,424.7 L1046.0,424.9 L1044.0,425.1 L1042.0,425.4 L1040.0,425.6 L1038.1,425.9 L1036.1,426.1 L1034.1,426.3 L1032.1,426.6 L1030.1,426.8 L1028.1,427.1 L1026.1,427.3 L1024.1,427.6 L1022.2,427.8 L1020.2,428.1 L1018.2,428.3 L1016.2,428.6 L1014.2,428.9 L1012.2,429.1 L1010.3,429.4 L1008.3,429.7 L1006.3,429.9 L1004.3,430.2 L1002.4,430.5 L1000.4,430.8 L998.4,431.1 L996.4,431.4 L994.4,431.7 L992.5,432.0 L990.5,432.3 L988.5,432.6 L986.6,432.9 L984.6,433.2 L982.6,433.6 L980.7,433.9 L978.7,434.3 L976.7,434.6 L974.8,435.0 L972.8,435.3 L970.9,435.7 L968.9,436.1 L966.9,436.5 L965.0,436.9 L963.0,437.3 L961.1,437.7 L959.1,438.1 L957.2,438.5 L955.2,439.0 L953.3,439.4 L951.4,439.9 L949.4,440.3 L947.5,440.8 L945.5,441.3 L943.6,441.8 L941.7,442.3 L939.8,442.8 L937.8,443.3 L935.9,443.8 L934.0,444.4 L932.1,444.9 L930.1,445.5 L928.2,446.1 L926.3,446.7 L924.4,447.3 L922.5,447.9 L920.6,448.5 L918.6,449.1 L916.7,449.7 L914.8,450.3 L912.9,451.0 L911.0,451.6 L909.1,452.2 L907.2,452.9 L905.3,453.5 L903.4,454.2 L901.5,454.8 L899.6,455.5 L897.7,456.2 L895.8,456.8 L893.9,457.5 L892.0,458.1 L890.1,458.8 L888.2,459.5 L886.3,460.1 L884.4,460.8 L882.5,461.4 L880.6,462.1 L878.7,462.7 L876.8,463.3 L874.9,464.0 L873.0,464.6 L871.1,465.2 L869.2,465.8 L867.3,466.5 L865.4,467.1 L863.4,467.7 L861.5,468.2 L859.6,468.8 L857.7,469.4 L855.8,470.0 L853.9,470.5 L852.0,471.0 L850.0,471.6 L848.1,472.1 L846.2,472.6 L844.3,473.1 L842.3,473.6 L840.4,474.0 L838.5,474.5 L836.6,475.0 L834.6,475.4 L832.7,475.8 L830.7,476.3 L828.8,476.7 L826.9,477.1 L824.9,477.5 L823.0,477.9 L821.0,478.3 L819.1,478.7 L817.2,479.0 L815.2,479.4 L813.3,479.7 L811.3,480.1 L809.3,480.4 L807.4,480.8 L805.4,481.1 L803.5,481.4 L801.5,481.7 L799.6,482.1 L797.6,482.4 L795.6,482.7 L793.7,483.0 L791.7,483.3 L789.8,483.6 L787.8,483.8 L785.8,484.1 L783.8,484.4 L781.9,484.7 L779.9,485.0 L777.9,485.2 L776.0,485.5 L774.0,485.8 L772.0,486.0 L770.0,486.3 L768.1,486.6 L766.1,486.8 L764.1,487.1 L762.1,487.4 L760.1,487.6 L758.2,487.9 L756.2,488.1 L754.2,488.4 L752.2,488.7 L750.2,488.9 L748.2,489.2 L746.2,489.4 L744.3,489.7 L742.3,490.0 L740.3,490.2 L738.3,490.5 L736.3,490.8 L734.3,491.1 L732.3,491.3 L730.3,491.6 L728.3,491.9 L726.3,492.2 L724.3,492.5 L722.3,492.8 L720.3,493.1 L718.3,493.4 L716.4,493.7 L714.4,494.0 L712.4,494.4 L710.4,494.7 L708.4,495.0 L706.4,495.4 L704.4,495.7 L702.4,496.1 L700.4,496.4 L698.4,496.8 L696.4,497.2 L694.4,497.5 L692.4,497.9 L690.4,498.3 L688.4,498.7 L686.5,499.1 L684.5,499.5 L682.5,500.0 L680.5,500.4 L678.5,500.8 L676.6,501.3 L674.6,501.8 L672.6,502.2 L670.7,502.7 L668.7,503.2 L666.8,503.7 L664.8,504.2 L662.8,504.7 L660.9,505.2 L659.0,505.8 L657.0,506.3 L655.1,506.9 L653.2,507.5 L651.2,508.0 L649.3,508.6 L647.4,509.2 L645.5,509.9 L643.6,510.5 L641.7,511.1 L639.8,511.8 L637.9,512.4 L636.1,513.1 L634.2,513.8 L632.3,514.5 L630.5,515.2 L628.6,516.0 L626.8,516.7 L624.9,517.5 L623.1,518.3 L621.3,519.1 L619.4,519.9 L617.6,520.7 L615.8,521.5 L614.0,522.4 L612.3,523.2 L610.5,524.1 L608.7,525.0 L607.0,525.9 L605.2,526.8 L603.5,527.8 L601.7,528.8 L600.0,529.7 L598.3,530.7 L596.6,531.7 L594.9,532.8 L593.2,533.8 L591.5,534.9 L589.9,535.9 L588.2,537.0 L586.5,538.1 L584.9,539.3 L583.3,540.4 L581.6,541.5 L580.0,542.7 L578.4,543.9 L576.8,545.1 L575.3,546.3 L573.7,547.5 L572.1,548.7 L570.6,550.0 L569.0,551.3 L567.5,552.5 L566.0,553.8 L564.4,555.1 L562.9,556.4 L561.4,557.8 L560.0,559.1 L558.5,560.4 L557.0,561.8 L555.5,563.2 L554.1,564.6 L552.7,565.9 L551.2,567.4 L549.8,568.8 L548.4,570.2 L547.0,571.6 L545.6,573.1 L544.2,574.5 L542.9,576.0 L541.5,577.5 L540.2,579.0 L538.8,580.5 L537.5,582.0 L536.2,583.5 L534.9,585.0 L533.6,586.5 L532.3,588.1 L531.0,589.6 L529.8,591.2 L528.5,592.8 L527.3,594.3 L526.0,595.9 L524.8,597.5 L523.6,599.1 L522.4,600.7 L521.2,602.3 L520.0,603.9 L518.8,605.5 L517.7,607.2 L516.5,608.8 L515.4,610.4 L514.2,612.1 L513.1,613.7 L512.0,615.4 L510.9,617.0 L509.8,618.7 L508.7,620.4 L507.6,622.1 L506.5,623.7 L505.5,625.4 L504.4,627.1 L503.3,628.8 L502.3,630.5 L501.3,632.2 L500.2,633.9 L499.2,635.7 L498.2,637.4 L497.2,639.1 L496.1,640.8 L495.1,642.6 L494.1,644.3 L493.2,646.0 L492.2,647.8 L491.2,649.5 L490.2,651.3 L489.2,653.0 L488.3,654.8 L487.3,656.5 L486.3,658.3 L485.4,660.0 L484.4,661.8 L483.5,663.6 L482.5,665.3 L481.6,667.1 L480.6,668.9 L479.7,670.6 L478.7,672.4 L477.8,674.2 L476.9,676.0 L475.9,677.7 L475.0,679.5 L474.1,681.3 L473.1,683.1 L472.2,684.9 L471.3,686.6 L470.3,688.4 L469.4,690.2 L468.5,692.0 L467.6,693.8 L466.6,695.5 L465.7,697.3 L464.8,699.1 L463.8,700.9 L462.9,702.6 L462.0,704.4 L461.0,706.2 L460.1,708.0 L459.2,709.7 L458.2,711.5 L457.3,713.3 L456.3,715.1 L455.4,716.8 L454.4,718.6 L453.5,720.3 L452.5,722.1 L451.5,723.9 L450.6,725.6 L449.6,727.4 L448.6,729.1 L447.6,730.9 L446.7,732.6 L445.7,734.4 L444.7,736.1 L443.7,737.8 L442.7,739.6 L441.7,741.3 L440.7,743.0 L439.7,744.7 L438.6,746.5 L437.6,748.2 L436.6,749.9 L435.6,751.6 L434.5,753.3 L433.5,755.0 L432.5,756.8 L431.4,758.5 L430.4,760.2 L429.3,761.9 L428.3,763.6 L427.2,765.3 L426.2,767.0 L425.1,768.7 L424.0,770.4 L423.0,772.0 L421.9,773.7 L420.8,775.4 L419.7,777.1 L418.7,778.8 L417.6,780.5 L416.5,782.2 L415.4,783.8 L414.3,785.5 L413.3,787.2 L412.2,788.9 L411.1,790.5 L410.0,792.2 L408.9,793.9 L407.8,795.6 L406.7,797.2 L405.6,798.9 L404.5,800.6 L403.4,802.2 L402.3,803.9 L401.2,805.6 L400.1,807.2 L399.0,808.9 L397.8,810.6 L396.7,812.2 L395.6,813.9 L394.5,815.6 L393.4,817.2 L392.3,818.9 L391.2,820.5 L390.1,822.2 L388.9,823.9 L387.8,825.5 L386.7,827.2 L385.6,828.8 L384.5,830.5 L383.4,832.2 L382.2,833.8 L381.1,835.5 L380.0,837.1 L378.9,838.8 L377.8,840.5 L376.7,842.1 L375.5,843.8 L374.4,845.4 L373.3,847.1 L372.2,848.8 L371.1,850.4 L370.0,852.1 L368.9,853.8 L367.7,855.4 L366.6,857.1 L365.5,858.7 L364.4,860.4 L363.3,862.1 L362.2,863.8 L361.1,865.4 L360.0,867.1 L358.9,868.8 L357.8,870.4 L356.7,872.1 L355.6,873.8 L354.5,875.5 L353.5,877.2 L352.4,878.8 L351.3,880.5 L350.3,882.2 L349.2,883.9 L348.1,885.6 L347.1,887.3 L346.1,889.0 L345.0,890.7 L344.0,892.4 L343.0,894.1 L342.0,895.9 L341.0,897.6 L340.0,899.3 L339.0,901.0 L338.0,902.8 L337.1,904.5 L336.1,906.3 L335.2,908.0 L334.2,909.8 L333.3,911.6 L332.4,913.3 L331.5,915.1 L330.6,916.9 L329.8,918.7 L328.9,920.5 L328.1,922.3 L327.2,924.1 L326.4,925.9 L325.6,927.7 L324.8,929.6 L324.0,931.4 L323.2,933.2 L322.4,935.1 L321.7,936.9 L320.9,938.7 L320.2,940.6 L319.4,942.5 L318.7,944.3 L318.0,946.2 L317.3,948.1 L316.6,949.9 L315.9,951.8 L315.2,953.7 L314.5,955.6 L313.8,957.4 L313.1,959.3 L312.5,961.2 L311.8,963.1 L311.1,965.0 L310.5,966.9 L309.8,968.8 L309.2,970.7 L308.6,972.6 L307.9,974.5 L307.3,976.4 L306.7,978.3 L306.0,980.2 L305.4,982.2 L304.8,984.1 L304.2,986.0 L303.6,987.9 L302.9,989.8 L302.3,991.7 L301.7,993.6 L301.1,995.5 L300.4,997.4 L299.8,999.3 L299.2,1001.2 L298.6,1003.1 L297.9,1005.0 L297.3,1006.9 L296.6,1008.8 L296.0,1010.7 L295.3,1012.6 L294.7,1014.5 L294.0,1016.4 L293.3,1018.3 L292.6,1020.1 L291.9,1022.0 L291.2,1023.9 L290.5,1025.7 L289.8,1027.6 L289.0,1029.4 L288.3,1031.3 L287.5,1033.1 L286.8,1035.0 L286.0,1036.8 L285.2,1038.6 L285.2,1036.6 L285.2,1034.6 L285.2,1032.6 L285.2,1030.6 L285.1,1028.6 L285.1,1026.6 L285.1,1024.6 L285.1,1022.6 L285.1,1020.6 L285.1,1018.7 L285.1,1016.7 L285.1,1014.7 L285.1,1012.7 L285.1,1010.7 L285.1,1008.7 L285.2,1006.7 L285.2,1004.7 L285.2,1002.7 L285.2,1000.7 L285.2,998.7 L285.2,996.7 L285.2,994.7 L285.2,992.7 L285.3,990.7 L285.3,988.7 L285.3,986.7 L285.3,984.7 L285.3,982.7 L285.4,980.7 L285.4,978.7 L285.4,976.7 L285.5,974.7 L285.5,972.7 L285.5,970.7 L285.5,968.7 L285.6,966.7 L285.6,964.7 L285.7,962.7 L285.7,960.7 L285.7,958.7 L285.8,956.7 L285.8,954.7 L285.9,952.7 L285.9,950.7 L285.9,948.7 L286.0,946.7 L286.0,944.7 L286.1,942.7 L286.1,940.7 L286.2,938.7 L286.3,936.7 L286.3,934.7 L286.4,932.7 L286.4,930.7 L286.5,928.7 L286.5,926.7 L286.6,924.7 L286.7,922.7 L286.7,920.7 L286.8,918.7 L286.9,916.7 L286.9,914.7 L287.0,912.7 L287.1,910.7 L287.1,908.7 L287.2,906.7 L287.3,904.6 L287.4,902.6 L287.4,900.6 L287.5,898.6 L287.6,896.6 L287.7,894.6 L287.7,892.6 L287.8,890.6 L287.9,888.6 L288.0,886.6 L288.1,884.6 L288.2,882.6 L288.3,880.6 L288.3,878.6 L288.4,876.6 L288.5,874.6 L288.6,872.6 L288.7,870.6 L288.8,868.6 L288.9,866.6 L289.0,864.6 L289.1,862.6 L289.2,860.6 L289.3,858.6 L289.4,856.6 L289.5,854.6 L289.6,852.6 L289.7,850.6 L289.8,848.6 L289.9,846.6 L290.0,844.6 L290.1,842.6 L290.2,840.6 L290.4,838.6 L290.5,836.5 L290.6,834.5 L290.7,832.5 L290.8,830.5 L290.9,828.5 L291.1,826.5 L291.2,824.5 L291.3,822.5 L291.4,820.5 L291.5,818.5 L291.7,816.5 L291.8,814.5 L291.9,812.5 L292.0,810.5 L292.2,808.5 L292.3,806.5 L292.4,804.5 L292.6,802.5 L292.7,800.5 L292.8,798.5 L293.0,796.5 L293.1,794.5 L293.2,792.5 L293.4,790.5 L293.5,788.5 L293.6,786.5 L293.8,784.5 L293.9,782.5 L294.1,780.5 L294.2,778.5 L294.4,776.5 L294.5,774.5 L294.6,772.5 L294.8,770.5 L294.9,768.5 L295.1,766.5 L295.2,764.5 L295.4,762.5 L295.5,760.5 L295.7,758.5 L295.9,756.5 L296.0,754.5 L296.2,752.5 L296.3,750.5 L296.5,748.5 L296.6,746.5 L296.8,744.5 L297.0,742.5 L297.1,740.5 L297.3,738.5 L297.5,736.5 L297.6,734.5 L297.8,732.5 L298.0,730.5 L298.1,728.5 L298.3,726.5 L298.5,724.6 L298.6,722.6 L298.8,720.6 L299.0,718.6 L299.1,716.6 L299.3,714.6 L299.5,712.6 L299.7,710.6 L299.9,708.6 L300.0,706.6 L300.2,704.6 L300.4,702.6 L300.6,700.6 L300.8,698.6 L300.9,696.6 L301.1,694.6 L301.3,692.6 L301.5,690.7 L301.7,688.7 L301.9,686.7 L302.0,684.7 L302.2,682.7 L302.4,680.7 L302.6,678.7 L302.8,676.7 L303.0,674.7 L303.2,672.7 L303.4,670.7 L303.6,668.8 L303.8,666.8 L304.0,664.8 L304.2,662.8 L304.4,660.8 L304.6,658.8 L304.8,656.8 L305.0,654.8 L305.2,652.9 L305.4,650.9 L305.6,648.9 L305.8,646.9 L306.0,644.9 L306.2,642.9 L306.4,640.9 L306.6,639.0 L306.8,637.0 L307.0,635.0 L307.2,633.0 L307.4,631.0 L307.7,629.0 L307.9,627.1 L308.1,625.1 L308.3,623.1 L308.5,621.1 L308.7,619.1 L308.9,617.1 L309.2,615.2 L309.4,613.2 L309.6,611.2 L309.8,609.2 L310.0,607.2 L310.2,605.3 L310.5,603.3 L310.7,601.3 L310.9,599.3 L311.1,597.3 L311.4,595.4 L311.6,593.4 L311.8,591.4 L312.0,589.4 L312.3,587.5 L312.5,585.5 L312.7,583.5 L313.0,581.5 L313.2,579.6 L313.4,577.6 L313.7,575.6 L313.9,573.6 L314.1,571.7 L314.4,569.7 L314.6,567.7 L314.9,565.7 L315.1,563.7 L315.4,561.8 L315.6,559.8 L315.9,557.8 L316.1,555.8 L316.4,553.9 L316.6,551.9 L316.9,549.9 L317.1,547.9 L317.4,546.0 L317.6,544.0 L317.9,542.0 L318.2,540.0 L318.4,538.1 L318.7,536.1 L319.0,534.1 L319.2,532.1 L319.5,530.2 L319.8,528.2 L320.0,526.2 L320.3,524.2 L320.6,522.3 L320.9,520.3 L321.2,518.3 L321.4,516.3 L321.7,514.4 L322.0,512.4 L322.3,510.4 L322.6,508.4 L322.9,506.5 L323.2,504.5 L323.5,502.5 L323.8,500.5 L324.1,498.5 L324.4,496.6 L324.7,494.6 L325.0,492.6 L325.3,490.6 L325.6,488.6 L325.9,486.7 L326.3,484.7 L326.6,482.7 L326.9,480.7 L327.2,478.7 L327.6,476.7 L327.9,474.8 L328.2,472.8 L328.6,470.8 L328.9,468.8 L329.2,466.8 L329.6,464.8 L329.9,462.8 L330.3,460.9 L330.6,458.9 L331.0,456.9 L331.4,454.9 L331.7,452.9 L332.1,450.9 L332.4,448.9 L332.8,446.9 L333.2,444.9 L333.6,442.9 L333.9,441.0 L334.3,439.0 L334.7,437.0 L335.1,435.0 L335.5,433.0 L335.9,431.0 L336.3,429.0 L336.7,427.0 L337.2,425.0 L337.6,423.1 L338.0,421.1 L338.5,419.1 L338.9,417.1 L339.4,415.2 L339.9,413.2 L340.4,411.2 L340.9,409.3 L341.4,407.3 L341.9,405.4 L342.4,403.4 L343.0,401.5 L343.5,399.5 L344.1,397.6 L344.7,395.7 L345.3,393.7 L345.9,391.8 L346.5,389.9 L347.2,388.0 L347.8,386.1 L348.5,384.2 L349.2,382.3 L349.9,380.5 L350.6,378.6 L351.4,376.7 L352.1,374.9 L352.9,373.0 L353.7,371.2 L354.5,369.4 L355.4,367.6 L356.2,365.8 L357.1,364.0 L358.0,362.2 L358.9,360.5 L359.9,358.7 L360.9,357.0 L361.9,355.3 L362.9,353.7 L364.0,352.0 L365.1,350.4 L366.2,348.8 L367.3,347.2 L368.5,345.6 L369.7,344.1 L370.9,342.6 L372.2,341.1 L373.5,339.7 L374.8,338.3 L376.2,336.9 L377.5,335.5 L378.9,334.2 L380.4,332.9 L381.8,331.6 L383.3,330.4 L384.8,329.2 L386.4,328.0 L387.9,326.9 L389.5,325.8 L391.2,324.7 L392.8,323.7 L394.5,322.7 L396.2,321.7 L397.9,320.8 L399.7,319.9 L401.4,319.0 L403.2,318.1 L405.0,317.3 L406.8,316.6 L408.7,315.8 L410.5,315.1 L412.4,314.4 L414.3,313.7 L416.2,313.1 L418.1,312.5 L420.0,311.9 L422.0,311.4 L423.9,310.8 L425.9,310.3 L427.8,309.9 L429.8,309.4 L431.8,309.0 L433.7,308.6 L435.7,308.2 L437.7,307.8 L439.7,307.4 L441.7,307.1 L443.7,306.8 L445.7,306.5 L447.7,306.2 L449.7,305.9 L451.7,305.7 L453.7,305.5 L455.7,305.2 L457.7,305.0 L459.8,304.8 L461.8,304.6 L463.8,304.5 L465.8,304.3 L467.8,304.2 L469.8,304.0 L471.8,303.9 L473.9,303.8 L475.9,303.7 L477.9,303.6 L479.9,303.5 L481.9,303.4 L483.9,303.3 L486.0,303.3 L488.0,303.2 L490.0,303.2 L492.0,303.1 L494.0,303.1 L496.0,303.0 L498.1,303.0 L500.1,303.0 L502.1,303.0 L504.1,302.9 L506.1,302.9 L508.2,302.9 L510.2,302.9 L512.2,302.9 L514.2,302.9 L516.2,302.8 L518.2,302.8 L520.2,302.8 L522.3,302.8 L524.3,302.8 L526.3,302.8 L528.3,302.7 L530.3,302.7 L532.3,302.7 L534.3,302.7 L536.3,302.7 L538.3,302.6 L540.3,302.6 L542.4,302.6 L544.4,302.5 L546.4,302.5 L548.4,302.5 L550.4,302.4 L552.4,302.4 L554.4,302.4 L556.4,302.3 L558.4,302.3 L560.4,302.3 L562.4,302.2 L564.4,302.2 L566.4,302.1 L568.4,302.1 L570.4,302.1 L572.4,302.0 L574.4,302.0 L576.4,301.9 L578.4,301.9 L580.4,301.8 L582.4,301.8 L584.4,301.7 L586.4,301.7 L588.4,301.6 L590.4,301.6 L592.3,301.5 L594.3,301.5 L596.3,301.4 L598.3,301.3 L600.3,301.3 L602.3,301.2 L604.3,301.2 L606.3,301.1 L608.3,301.1 L610.3,301.0 L612.3,300.9 L614.3,300.9 L616.3,300.8 L618.3,300.7 L620.3,300.7 L622.2,300.6 L624.2,300.5 L626.2,300.5 L628.2,300.4 L630.2,300.3 L632.2,300.3 L634.2,300.2 L636.2,300.1 L638.2,300.1 L640.2,300.0 L642.2,299.9 L644.1,299.9 L646.1,299.8 L648.1,299.7 L650.1,299.6 L652.1,299.6 L654.1,299.5 L656.1,299.4 L658.1,299.3 L660.1,299.3 L662.1,299.2 L664.1,299.1 L666.1,299.0 L668.0,299.0 L670.0,298.9 L672.0,298.8 L674.0,298.7 L676.0,298.7 L678.0,298.6 L680.0,298.5 L682.0,298.4 L684.0,298.4 L686.0,298.3 L688.0,298.2 L690.0,298.1 L692.0,298.0 L694.0,298.0 L696.0,297.9 L697.9,297.8 L699.9,297.7 L701.9,297.6 L703.9,297.6 L705.9,297.5 L707.9,297.4 L709.9,297.3 L711.9,297.2 L713.9,297.2 L715.9,297.1 L717.9,297.0 L719.9,296.9 L721.9,296.8 L723.9,296.8 L725.9,296.7 L727.9,296.6 L729.9,296.5 L731.9,296.4 L733.9,296.4 L735.9,296.3 L737.9,296.2 L739.9,296.1 L741.9,296.0 L744.0,296.0 L746.0,295.9 L748.0,295.8 L750.0,295.7 L752.0,295.6 L754.0,295.5 L756.0,295.4 L758.0,295.4 L760.0,295.3 L762.0,295.2 L764.0,295.1 L766.0,295.0 L768.0,294.9 L770.0,294.8 L772.0,294.6 L774.0,294.5 L776.1,294.4 L778.1,294.3 L780.1,294.2 L782.1,294.0 L784.1,293.9 L786.1,293.7 L788.1,293.6 L790.1,293.4 L792.1,293.3 L794.1,293.1 L796.1,293.0 L798.1,292.8 L800.1,292.6 L802.1,292.4 L804.1,292.2 L806.1,292.0 L808.0,291.8 L810.0,291.6 L812.0,291.4 L814.0,291.1 L816.0,290.9 L818.0,290.7 L820.0,290.4 L822.0,290.1 L823.9,289.9 L825.9,289.6 L827.9,289.3 L829.9,289.0 L831.9,288.7 L833.8,288.4 L835.8,288.1 L837.8,287.8 L839.8,287.5 L841.7,287.2 L843.7,286.8 L845.7,286.5 L847.7,286.2 L849.6,285.8 L851.6,285.5 L853.6,285.1 L855.5,284.8 L857.5,284.4 L859.5,284.0 L861.4,283.7 L863.4,283.3 L865.4,282.9 L867.3,282.6 L869.3,282.2 L871.3,281.8 L873.2,281.4 L875.2,281.0 L877.2,280.7 L879.1,280.3 L881.1,279.9 L883.1,279.5 L885.0,279.1 L887.0,278.7 L889.0,278.3 L890.9,278.0 L892.9,277.6 L894.8,277.2 L896.8,276.8 L898.8,276.4 L900.7,276.0 L902.7,275.6 L904.7,275.3 L906.6,274.9 L908.6,274.5 L910.6,274.1 L912.5,273.8 L914.5,273.4 L916.5,273.0 L918.4,272.7 L920.4,272.3 L922.4,271.9 L924.3,271.6 L926.3,271.2 L928.3,270.9 L930.2,270.6 L932.2,270.2 L934.2,269.9 L936.2,269.6 L938.1,269.2 L940.1,268.9 L942.1,268.6 L944.0,268.3 L946.0,268.0 L948.0,267.7 L950.0,267.4 L952.0,267.1 L953.9,266.8 L955.9,266.5 L957.9,266.3 L959.9,266.0 L961.9,265.7 L963.8,265.4 L965.8,265.2 L967.8,264.9 L969.8,264.7 L971.8,264.4 L973.7,264.2 L975.7,263.9 L977.7,263.7 L979.7,263.5 L981.7,263.2 L983.7,263.0 L985.7,262.8 L987.6,262.6 L989.6,262.4 L991.6,262.1 L993.6,261.9 L995.6,261.7 L997.6,261.5 L999.6,261.4 L1001.6,261.2 L1003.6,261.0 L1005.6,260.8 L1007.5,260.6 L1009.5,260.5 L1011.5,260.3 L1013.5,260.1 L1015.5,260.0 L1017.5,259.8 L1019.5,259.7 L1021.5,259.5 L1023.5,259.4 L1025.5,259.3 L1027.5,259.1 L1029.5,259.0 L1031.5,258.9 L1033.5,258.8 L1035.5,258.6 L1037.5,258.5 L1039.5,258.4 L1041.5,258.3 L1043.5,258.2 L1045.5,258.1 L1047.5,258.0 L1049.5,257.9 L1051.5,257.8 L1053.5,257.8 L1055.5,257.7 L1057.5,257.6 L1059.5,257.5 L1061.5,257.4 L1063.5,257.3 L1065.5,257.3 L1067.5,257.2 L1069.5,257.1 L1071.5,257.0 L1073.5,256.9 L1075.5,256.8 L1077.5,256.7 L1079.5,256.6 L1081.5,256.5 L1083.5,256.4 L1085.5,256.3 L1087.5,256.2 L1089.5,256.1 L1091.4,255.9 L1093.4,255.8 L1095.4,255.7 L1097.4,255.5 L1099.4,255.4 L1101.4,255.2 L1103.4,255.1 L1105.4,254.9 L1107.4,254.8 L1109.4,254.6 L1111.4,254.4 L1113.4,254.2 L1115.4,254.0 L1117.4,253.8 L1119.4,253.7 L1121.3,253.5 L1123.3,253.3 L1125.3,253.1 L1127.3,252.8 L1129.3,252.6 L1131.3,252.4 L1133.3,252.2 L1135.3,252.0 L1137.3,251.8 L1139.3,251.5 L1141.2,251.3 L1143.2,251.1 L1145.2,250.8 L1147.2,250.6 L1149.2,250.4 L1151.2,250.1 L1153.2,249.9 L1155.2,249.7 L1157.1,249.4 L1159.1,249.2 L1161.1,249.0 L1163.1,248.7 L1165.1,248.5 L1167.1,248.2 L1169.1,248.0 L1171.1,247.8 L1173.0,247.5 L1175.0,247.3 L1177.0,247.0 L1179.0,246.8 L1181.0,246.6 L1183.0,246.3 L1185.0,246.1 L1187.0,245.9 L1188.9,245.6 L1190.9,245.4 L1192.9,245.2 L1194.9,245.0 L1196.9,244.8 L1198.9,244.5 L1200.9,244.3 L1202.9,244.1 L1204.9,243.9 L1206.9,243.7 L1208.8,243.5 L1210.8,243.3 L1212.8,243.1 L1214.8,242.9 L1216.8,242.8 L1218.8,242.6 L1220.8,242.4 L1222.8,242.2 L1224.8,242.0 L1226.8,241.9 L1228.8,241.7 L1230.8,241.5 L1232.8,241.4 L1234.8,241.2 L1236.8,241.1 L1238.7,240.9 L1240.7,240.8 L1242.7,240.6 L1244.7,240.5 L1246.7,240.3 L1248.7,240.2 L1250.7,240.1 L1252.7,239.9 L1254.7,239.8 L1256.7,239.7 L1258.7,239.5 L1260.7,239.4 L1262.7,239.3 L1264.7,239.2 L1266.7,239.1 L1268.7,238.9 L1270.7,238.8 L1272.7,238.7 L1274.7,238.6 L1276.7,238.5 L1278.7,238.4 L1280.7,238.3 L1282.7,238.2 L1284.7,238.1 L1286.7,238.0 L1288.7,237.9 L1290.7,237.8 L1292.7,237.7 L1294.7,237.6 L1296.7,237.5 L1298.7,237.5 L1300.7,237.4 L1302.7,237.3 L1304.7,237.2 L1306.7,237.1 L1308.7,237.0 L1310.7,237.0 L1312.7,236.9 L1314.7,236.8 L1316.7,236.7 L1318.7,236.7 L1320.7,236.6 L1322.7,236.5 L1324.7,236.5 L1326.7,236.4 L1328.7,236.3 L1330.7,236.2 L1332.7,236.2 L1334.7,236.1 L1336.7,236.0 L1338.7,236.0 L1340.7,235.9 L1342.7,235.8 L1344.7,235.8 L1346.7,235.7 L1348.7,235.6 L1350.7,235.6 L1352.7,235.5 L1354.7,235.5 L1356.7,235.4 L1358.7,235.3 L1360.7,235.3 L1362.7,235.2 L1364.7,235.1 L1366.7,235.1 L1368.7,235.0 L1370.7,234.9 L1372.7,234.8 L1374.7,234.8 L1376.7,234.7 L1378.7,234.6 L1380.7,234.6 L1382.7,234.5 L1384.7,234.4 L1386.7,234.3 L1388.7,234.2 L1390.7,234.2 L1392.7,234.1 L1394.7,234.0 L1396.7,233.9 L1398.7,233.8 L1400.7,233.7 L1402.7,233.7 L1404.7,233.6 L1406.7,233.5 L1408.7,233.4 L1410.7,233.3 L1412.7,233.2 L1414.7,233.1 L1416.7,233.0 L1418.7,232.9 L1420.7,232.8 L1422.7,232.6 L1424.7,232.5 L1426.7,232.4 L1428.7,232.3 L1430.7,232.2 L1432.7,232.0 L1434.7,231.9 L1436.7,231.8 L1438.7,231.6 L1440.7,231.5 L1442.7,231.4 L1444.7,231.2 L1446.7,231.1 L1448.7,230.9 L1450.6,230.8 L1452.6,230.6 L1454.6,230.4 L1456.6,230.3 L1458.6,230.1 L1460.6,229.9 L1462.6,229.8 L1464.6,229.6 L1466.6,229.4 L1468.6,229.2 L1470.6,229.0 L1472.6,228.8 L1474.5,228.6 L1476.5,228.4 L1478.5,228.2 L1480.5,228.0 L1482.5,227.8 L1484.5,227.5 L1486.5,227.3 L1488.5,227.1 L1490.4,226.8 L1492.4,226.6 L1494.4,226.3 L1496.4,226.1 L1498.4,225.9 L1500.4,225.6 L1502.4,225.3 L1504.3,225.1 L1506.3,224.8 L1508.3,224.5 L1510.3,224.3 L1512.3,224.0 L1514.3,223.7 L1516.2,223.5 L1518.2,223.2 L1520.2,222.9 L1522.2,222.6 L1524.2,222.3 L1526.2,222.1 L1528.1,221.8 L1530.1,221.5 L1532.1,221.2 L1534.1,220.9 L1536.1,220.6 L1538.0,220.3 L1540.0,220.0 L1542.0,219.7 L1544.0,219.4 L1546.0,219.1 L1548.0,218.8 L1549.9,218.6 L1551.9,218.3 L1553.9,218.0 L1555.9,217.7 L1557.9,217.4 L1559.8,217.1 L1561.8,216.8 L1563.8,216.5 L1565.8,216.2 L1567.8,215.9 L1569.7,215.6 L1571.7,215.3 L1573.7,215.1 L1575.7,214.8 L1577.7,214.5 L1579.7,214.2 L1581.6,213.9 L1583.6,213.7 L1585.6,213.4 L1587.6,213.1 L1589.6,212.8 L1591.5,212.6 L1593.5,212.3 L1595.5,212.1 L1597.5,211.8 L1599.5,211.5 L1601.5,211.3 L1603.4,211.0 L1605.4,210.8 L1607.4,210.6 L1609.4,210.3 L1611.4,210.1 L1613.4,209.8 L1615.4,209.6 L1617.3,209.4 L1619.3,209.2 L1621.3,208.9 L1623.3,208.7 L1625.3,208.5 L1627.3,208.3 L1629.3,208.1 L1631.2,207.9 L1633.2,207.7 L1635.2,207.5 L1637.2,207.3 L1639.2,207.1 L1641.2,206.9 L1643.2,206.7 L1645.2,206.5 L1647.1,206.3 L1649.1,206.2 L1651.1,206.0 L1653.1,205.8 L1655.1,205.6 L1657.1,205.5 L1659.1,205.3 L1661.1,205.1 L1663.1,204.9 L1665.1,204.8 L1667.1,204.6 L1669.1,204.5 L1671.0,204.3 L1673.0,204.2 L1675.0,204.0 L1677.0,203.9 L1679.0,203.7 L1681.0,203.6 L1683.0,203.4 L1685.0,203.3 L1687.0,203.1 L1689.0,203.0 L1691.0,202.9 L1693.0,202.7 L1695.0,202.6 L1697.0,202.5 L1699.0,202.3 L1701.0,202.2 L1703.0,202.1 L1705.0,202.0 L1707.0,201.8 L1709.0,201.7 L1711.0,201.6 L1713.0,201.5 L1715.0,201.4 L1717.0,201.3 L1719.0,201.2 L1721.0,201.0 L1723.0,200.9 L1725.0,200.8 L1727.0,200.7 L1729.0,200.6 L1731.1,200.5 L1733.1,200.4 L1735.1,200.3 L1737.1,200.2 L1739.1,200.1 L1741.1,199.9 L1743.1,199.8 L1745.1,199.7 L1747.1,199.6 L1749.1,199.5 L1751.1,199.4 L1753.1,199.3 L1755.1,199.1 L1757.1,199.0 L1759.1,198.9 L1761.1,198.8 L1763.1,198.7 L1765.1,198.5 L1767.1,198.4 L1769.1,198.3 L1771.1,198.1 L1773.1,198.0 L1775.1,197.8 L1777.1,197.7 L1779.1,197.5 L1781.1,197.4 L1783.1,197.2 L1785.1,197.1 L1787.1,196.9 L1789.1,196.7 L1791.1,196.5 L1793.1,196.4 L1795.1,196.2 L1797.1,196.0 L1799.1,195.8 L1801.1,195.6 L1803.1,195.4 L1805.1,195.2 L1807.1,194.9 L1809.0,194.7 L1811.0,194.5 L1813.0,194.2 L1815.0,194.0 L1817.0,193.8 L1819.0,193.5 L1820.9,193.2 L1822.9,193.0 L1824.9,192.7 L1826.9,192.4 L1828.8,192.1 L1830.8,191.8 L1832.8,191.5 L1834.7,191.2 L1836.7,190.9 L1838.7,190.5 L1840.6,190.2 L1842.6,189.8 L1844.5,189.5 L1846.5,189.1 L1848.5,188.7 L1850.4,188.3 L1852.4,187.9 L1854.3,187.5 L1856.3,187.1 L1858.2,186.7 L1860.2,186.3 L1862.1,185.8 L1864.0,185.4 L1866.0,184.9 L1867.9,184.4 L1869.8,183.9 L1871.8,183.5 L1873.7,183.0 L1875.6,182.5 L1877.6,181.9 L1879.5,181.4 L1881.4,180.9 L1883.3,180.4 L1885.3,179.8 L1887.2,179.3 L1889.1,178.7 L1891.0,178.1 L1892.9,177.6 L1894.9,177.0 L1896.8,176.4 L1898.7,175.8 L1900.6,175.2 L1902.5,174.6 L1904.4,174.0 L1906.3,173.4 L1908.2,172.8 L1910.1,172.2 L1912.0,171.6 L1914.0,171.0 L1915.9,170.3 L1917.8,169.7 L1919.7,169.1 L1921.6,168.5 L1923.5,167.8 L1925.4,167.2 L1927.3,166.5 L1929.2,165.9 L1931.1,165.3 L1933.0,164.6 L1934.9,164.0 L1936.8,163.3 L1938.7,162.7 L1940.6,162.0 L1942.5,161.4 L1944.4,160.8 L1946.3,160.1 L1948.2,159.5 L1950.1,158.8 L1952.0,158.2 L1953.9,157.5 L1955.8,156.9 L1957.7,156.3 L1959.6,155.6 L1961.5,155.0 L1963.4,154.4 L1965.3,153.8 L1967.2,153.1 L1969.2,152.5 L1971.1,151.9 L1973.0,151.3 L1974.9,150.7 L1976.8,150.1 L1978.7,149.5 L1980.6,148.9 L1982.5,148.3 L1984.4,147.7 L1986.4,147.1 L1988.3,146.5 L1990.2,146.0 L1992.1,145.4 L1994.0,144.8 L1996.0,144.3 L1997.9,143.7 L1999.8,143.2 L2001.7,142.7 L2003.7,142.2 L2005.6,141.6 L2007.5,141.1 L2009.5,140.6 L2011.4,140.2 L2013.3,139.7 L2015.3,139.2 L2017.2,138.7 L2019.2,138.3 L2021.1,137.8 L2023.0,137.4 L2025.0,137.0 L2026.9,136.6 L2028.9,136.2 L2030.9,135.8 L2032.8,135.4 L2034.8,135.0 L2036.7,134.6 L2038.7,134.3"/>
</g>
<g fill="#000">
<rect x="207" y="37" width="6" height="1456"/>
<rect x="2122" y="37" width="7" height="1456"/>
<rect x="207" y="37" width="1922" height="7"/>
<rect x="207" y="1486" width="1922" height="7"/>
<rect x="267" y="1459" width="6" height="27"/>
<rect x="567" y="1459" width="6" height="27"/>
<rect x="866" y="1459" width="6" height="27"/>
<rect x="1165" y="1459" width="6" height="27"/>
<rect x="1464" y="1459" width="6" height="27"/>
<rect x="1764" y="1459" width="6" height="27"/>
<rect x="2063" y="1459" width="6" height="27"/>
<rect x="417" y="1474" width="6" height="12"/>
<rect x="716" y="1474" width="6" height="12"/>
<rect x="1016" y="1474" width="6" height="12"/>
<rect x="1315" y="1474" width="6" height="12"/>
<rect x="1614" y="1474" width="6" height="12"/>
<rect x="1913" y="1474" width="6" height="12"/>
<rect x="213" y="1486" width="27" height="7"/>
<rect x="213" y="1325" width="27" height="7"/>
<rect x="213" y="1164" width="27" height="7"/>
<rect x="213" y="1003" width="27" height="7"/>
<rect x="213" y="842" width="27" height="7"/>
<rect x="213" y="681" width="27" height="7"/>
<rect x="213" y="520" width="27" height="7"/>
<rect x="213" y="359" width="27" height="7"/>
<rect x="213" y="198" width="27" height="7"/>
<rect x="213" y="37" width="27" height="7"/>
<rect x="213" y="1405" width="12" height="7"/>
<rect x="213" y="1244" width="12" height="7"/>
<rect x="213" y="1083" width="12" height="7"/>
<rect x="213" y="922" width="12" height="7"/>
<rect x="213" y="761" width="12" height="7"/>
<rect x="213" y="600" width="12" height="7"/>
<rect x="213" y="439" width="12" height="7"/>
<rect x="213" y="278" width="12" height="7"/>
<rect x="213" y="117" width="12" height="7"/>
</g>
<g font-family="Liberation Serif, Times New Roman, serif" fill="#000">
<text transform="translate(270.3,1569) scale(1,1.075)" font-size="62" text-anchor="middle">0.0</text>
<text transform="translate(569.6,1569) scale(1,1.075)" font-size="62" text-anchor="middle">0.5</text>
<text transform="translate(868.9,1569) scale(1,1.075)" font-size="62" text-anchor="middle">1.0</text>
<text transform="translate(1168.2,1569) scale(1,1.075)" font-size="62" text-anchor="middle">1.5</text>
<text transform="translate(1467.5,1569) scale(1,1.075)" font-size="62" text-anchor="middle">2.0</text>
<text transform="translate(1766.8,1569) scale(1,1.075)" font-size="62" text-anchor="middle">2.5</text>
<text transform="translate(2066.1,1569) scale(1,1.075)" font-size="62" text-anchor="middle">3.0</text>
<text transform="translate(178.5,1507.6) scale(1,1.075)" font-size="62" text-anchor="end">-1.4</text>
<text transform="translate(178.5,1346.6) scale(1,1.075)" font-size="62" text-anchor="end">-1.2</text>
<text transform="translate(178.5,1185.6) scale(1,1.075)" font-size="62" text-anchor="end">-1.0</text>
<text transform="translate(178.5,1024.6) scale(1,1.075)" font-size="62" text-anchor="end">-0.8</text>
<text transform="translate(178.5,863.6) scale(1,1.075)" font-size="62" text-anchor="end">-0.6</text>
<text transform="translate(178.5,702.6) scale(1,1.075)" font-size="62" text-anchor="end">-0.4</text>
<text transform="translate(178.5,541.6) scale(1,1.075)" font-size="62" text-anchor="end">-0.2</text>
<text transform="translate(178.5,380.6) scale(1,1.075)" font-size="62" text-anchor="end">0.0</text>
<text transform="translate(178.5,219.6) scale(1,1.075)" font-size="62" text-anchor="end">0.2</text>
<text transform="translate(178.5,58.6) scale(1,1.075)" font-size="62" text-anchor="end">0.4</text>
<text x="1147" y="1639" font-size="77" text-anchor="middle">Potential (V)</text>
<text transform="translate(72,768) rotate(-90)" font-size="79" text-anchor="middle">Current (mA)</text>
<line x1="1677.5" y1="596.3" x2="1846" y2="596.3" stroke="#000" stroke-width="9" stroke-linecap="round"/>
<text transform="translate(1866,623.3) scale(1,1.04)" font-size="83">1st</text>
<line x1="1677.5" y1="701.3" x2="1846" y2="701.3" stroke="#f00" stroke-width="9" stroke-linecap="round"/>
<text transform="translate(1866,728.3) scale(1,1.04)" font-size="83">2nd</text>
<line x1="1677.5" y1="806.3" x2="1846" y2="806.3" stroke="#00f" stroke-width="9" stroke-linecap="round"/>
<text transform="translate(1866,833.3) scale(1,1.04)" font-size="83">3rd</text>
</g>
</svg>
</body></html>
